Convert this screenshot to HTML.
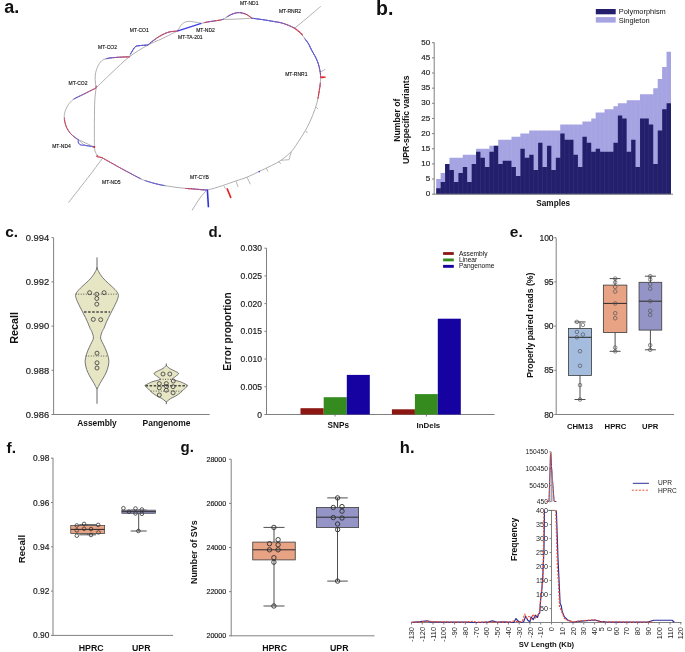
<!DOCTYPE html>
<html><head><meta charset="utf-8"><style>
html,body{margin:0;padding:0;background:#fff;}
svg{display:block;font-family:"Liberation Sans", sans-serif;}
</style></head><body>
<div style="width:685px;height:652px;will-change:transform;">
<svg width="685" height="652" viewBox="0 0 685 652">
<rect x="0" y="0" width="685" height="652" fill="#ffffff"/>
<text x="4.2" y="13.1" font-size="18" text-anchor="start" fill="#111" font-weight="bold">a.</text>
<text x="376" y="15" font-size="19.5" text-anchor="start" fill="#111" font-weight="bold">b.</text>
<text x="5.2" y="236.6" font-size="15.4" text-anchor="start" fill="#111" font-weight="bold">c.</text>
<text x="208.6" y="236.6" font-size="15" text-anchor="start" fill="#111" font-weight="bold">d.</text>
<text x="509.8" y="236.7" font-size="15.5" text-anchor="start" fill="#111" font-weight="bold">e.</text>
<text x="6.5" y="452.9" font-size="15.5" text-anchor="start" fill="#111" font-weight="bold">f.</text>
<text x="180.5" y="451.8" font-size="15" text-anchor="start" fill="#111" font-weight="bold">g.</text>
<text x="399.8" y="452.8" font-size="16.5" text-anchor="start" fill="#111" font-weight="bold">h.</text>
<path d="M96.00,88.00 C98.67,85.42 106.43,77.70 112.00,72.50 C117.57,67.30 123.48,61.33 129.40,56.80 C135.32,52.27 142.07,48.32 147.50,45.30 C152.93,42.28 157.05,41.07 162.00,38.70 C166.95,36.33 174.67,32.37 177.20,31.10" fill="none" stroke="#a6a6a6" stroke-width="0.9" stroke-linecap="round" stroke-linejoin="round"/>
<path d="M129.40,56.80 C127.22,56.90 120.23,57.07 116.30,57.40 C112.37,57.73 108.43,58.03 105.80,58.80 C103.17,59.57 102.03,60.25 100.50,62.00 C98.97,63.75 97.48,66.97 96.60,69.30 C95.72,71.63 95.40,73.72 95.20,76.00 C95.00,78.28 95.27,81.00 95.40,83.00 C95.53,85.00 96.10,85.17 96.00,88.00 C95.90,90.83 95.07,94.50 94.80,100.00 C94.53,105.50 94.47,114.33 94.40,121.00 C94.33,127.67 94.40,135.67 94.40,140.00 C94.40,144.33 94.40,145.83 94.40,147.00" fill="none" stroke="#a6a6a6" stroke-width="0.9" stroke-linecap="round" stroke-linejoin="round"/>
<path d="M96.00,88.00 C94.17,88.92 88.72,91.65 85.00,93.50 C81.28,95.35 76.62,97.02 73.70,99.10 C70.78,101.18 69.03,103.57 67.50,106.00 C65.97,108.43 65.00,111.37 64.50,113.70 C64.00,116.03 64.25,117.95 64.50,120.00 C64.75,122.05 64.98,123.73 66.00,126.00 C67.02,128.27 68.55,131.32 70.60,133.60 C72.65,135.88 75.98,137.77 78.30,139.70 C80.62,141.63 82.72,144.15 84.50,145.20 C86.28,146.25 87.38,145.70 89.00,146.00 C90.62,146.30 93.33,146.83 94.20,147.00" fill="none" stroke="#a6a6a6" stroke-width="0.9" stroke-linecap="round" stroke-linejoin="round"/>
<path d="M94.20,147.00 C94.33,147.67 94.45,149.58 95.00,151.00 C95.55,152.42 96.33,154.38 97.50,155.50 C98.67,156.62 98.03,155.53 102.00,157.70 C105.97,159.87 114.58,164.87 121.30,168.50 C128.02,172.13 136.17,176.87 142.30,179.50 C148.43,182.13 154.30,183.27 158.10,184.30 C161.90,185.33 161.45,185.12 165.10,185.70 C168.75,186.28 174.80,187.22 180.00,187.80 C185.20,188.38 191.83,188.83 196.30,189.20 C200.77,189.57 202.42,190.60 206.80,190.00 C211.18,189.40 217.78,187.10 222.60,185.60 C227.42,184.10 231.63,182.40 235.70,181.00 C239.77,179.60 243.07,178.80 247.00,177.20 C250.93,175.60 255.22,173.35 259.30,171.40 C263.38,169.45 267.90,167.35 271.50,165.50 C275.10,163.65 277.58,162.63 280.90,160.30 C284.22,157.97 288.48,154.62 291.40,151.50 C294.32,148.38 296.07,145.10 298.40,141.60 C300.73,138.10 303.35,134.10 305.40,130.50 C307.45,126.90 309.07,123.67 310.70,120.00 C312.33,116.33 313.93,112.33 315.20,108.50 C316.47,104.67 317.50,100.77 318.30,97.00 C319.10,93.23 319.62,89.13 320.00,85.90 C320.38,82.67 320.57,79.90 320.60,77.60 C320.63,75.30 320.58,74.40 320.20,72.10 C319.82,69.80 319.10,66.33 318.30,63.80 C317.50,61.27 316.48,59.12 315.40,56.90 C314.32,54.68 312.95,52.68 311.80,50.50 C310.65,48.32 309.72,45.88 308.50,43.80 C307.28,41.72 306.08,40.03 304.50,38.00 C302.92,35.97 300.72,33.27 299.00,31.60 C297.28,29.93 295.97,29.05 294.20,28.00 C292.43,26.95 290.58,26.17 288.40,25.30 C286.22,24.43 283.53,23.43 281.10,22.80 C278.67,22.17 276.72,22.00 273.80,21.50 C270.88,21.00 267.25,20.35 263.60,19.80 C259.95,19.25 253.85,18.47 251.90,18.20" fill="none" stroke="#a6a6a6" stroke-width="0.9" stroke-linecap="round" stroke-linejoin="round"/>
<path d="M251.90,18.20 C249.92,18.32 243.65,18.72 240.00,18.90 C236.35,19.08 232.80,19.23 230.00,19.30 C227.20,19.37 224.33,19.30 223.20,19.30" fill="none" stroke="#a6a6a6" stroke-width="0.9" stroke-linecap="round" stroke-linejoin="round"/>
<path d="M251.90,18.20 C250.93,17.55 248.28,15.23 246.10,14.30 C243.92,13.37 241.15,12.62 238.80,12.60 C236.45,12.58 234.60,13.08 232.00,14.20 C229.40,15.32 224.67,18.45 223.20,19.30" fill="none" stroke="#a6a6a6" stroke-width="0.9" stroke-linecap="round" stroke-linejoin="round"/>
<path d="M223.20,19.30 C222.47,19.47 221.23,19.88 218.80,20.30 C216.37,20.72 211.52,21.28 208.60,21.80 C205.68,22.32 202.52,23.13 201.30,23.40" fill="none" stroke="#a6a6a6" stroke-width="0.9" stroke-linecap="round" stroke-linejoin="round"/>
<path d="M201.30,23.40 C200.33,23.20 197.68,22.53 195.50,22.20 C193.32,21.87 190.40,21.13 188.20,21.40 C186.00,21.67 184.13,22.18 182.30,23.80 C180.47,25.42 178.05,29.88 177.20,31.10" fill="none" stroke="#a6a6a6" stroke-width="0.9" stroke-linecap="round" stroke-linejoin="round"/>
<path d="M177.20,31.10 C175.87,31.25 171.75,31.35 169.20,32.00 C166.65,32.65 164.33,33.73 161.90,35.00 C159.47,36.27 156.95,37.93 154.60,39.60 C152.25,41.27 148.93,44.10 147.80,45.00" fill="none" stroke="#a6a6a6" stroke-width="0.9" stroke-linecap="round" stroke-linejoin="round"/>
<path d="M147.80,45.00 C146.50,45.10 142.05,45.33 140.00,45.60 C137.95,45.87 136.83,45.62 135.50,46.60 C134.17,47.58 133.02,49.80 132.00,51.50 C130.98,53.20 129.83,55.92 129.40,56.80" fill="none" stroke="#a6a6a6" stroke-width="0.9" stroke-linecap="round" stroke-linejoin="round"/>
<path d="M295.00,28.00 C297.00,26.33 302.75,21.57 307.00,18.00 C311.25,14.43 318.25,8.50 320.50,6.60" fill="none" stroke="#a6a6a6" stroke-width="0.9" stroke-linecap="round" stroke-linejoin="round"/>
<path d="M102.00,158.90 C100.00,161.58 95.53,167.78 90.00,175.00 C84.47,182.22 72.33,197.67 68.80,202.20" fill="none" stroke="#a6a6a6" stroke-width="0.9" stroke-linecap="round" stroke-linejoin="round"/>
<path d="M206.80,190.00 C205.67,191.33 202.42,194.67 200.00,198.00 C197.58,201.33 193.58,208.00 192.30,210.00" fill="none" stroke="#a6a6a6" stroke-width="0.9" stroke-linecap="round" stroke-linejoin="round"/>
<path d="M78.30,139.70 C79.58,140.28 83.35,141.98 86.00,143.20 C88.65,144.42 92.83,146.37 94.20,147.00" fill="none" stroke="#a6a6a6" stroke-width="0.9" stroke-linecap="round" stroke-linejoin="round"/>
<line x1="236" y1="181" x2="238" y2="187" stroke="#a6a6a6" stroke-width="0.8"/>
<line x1="247" y1="177.2" x2="250.4" y2="184.3" stroke="#a6a6a6" stroke-width="0.8"/>
<line x1="224" y1="186" x2="225.5" y2="189" stroke="#a6a6a6" stroke-width="0.8"/>
<line x1="266" y1="168" x2="268" y2="171.5" stroke="#a6a6a6" stroke-width="0.8"/>
<line x1="278" y1="161.5" x2="281" y2="163.5" stroke="#a6a6a6" stroke-width="0.8"/>
<line x1="291.4" y1="151.5" x2="289" y2="159.7" stroke="#a6a6a6" stroke-width="0.8"/>
<line x1="289" y1="159.7" x2="280.9" y2="160.3" stroke="#a6a6a6" stroke-width="0.8"/>
<line x1="305.4" y1="130.5" x2="307.5" y2="133" stroke="#a6a6a6" stroke-width="0.8"/>
<line x1="316" y1="107" x2="318" y2="109" stroke="#a6a6a6" stroke-width="0.8"/>
<line x1="320.4" y1="72.1" x2="325.2" y2="69.3" stroke="#a6a6a6" stroke-width="0.8"/>
<line x1="96.00" y1="88.00" x2="95.07" y2="88.46" stroke="#d5314e" stroke-width="0.85" stroke-linecap="round"/>
<line x1="95.07" y1="88.46" x2="94.14" y2="88.93" stroke="#be7788" stroke-width="0.85" stroke-linecap="round"/>
<line x1="94.14" y1="88.93" x2="93.21" y2="89.39" stroke="#c73460" stroke-width="0.85" stroke-linecap="round"/>
<line x1="93.21" y1="89.39" x2="92.29" y2="89.86" stroke="#c1366a" stroke-width="0.85" stroke-linecap="round"/>
<line x1="92.29" y1="89.86" x2="91.36" y2="90.32" stroke="#b47a94" stroke-width="0.85" stroke-linecap="round"/>
<line x1="91.36" y1="90.32" x2="90.43" y2="90.79" stroke="#b3397c" stroke-width="0.85" stroke-linecap="round"/>
<line x1="90.43" y1="90.79" x2="89.50" y2="91.25" stroke="#ad3a83" stroke-width="0.85" stroke-linecap="round"/>
<line x1="89.50" y1="91.25" x2="88.57" y2="91.71" stroke="#ac7b9f" stroke-width="0.85" stroke-linecap="round"/>
<line x1="88.57" y1="91.71" x2="87.64" y2="92.18" stroke="#a23c91" stroke-width="0.85" stroke-linecap="round"/>
<line x1="87.64" y1="92.18" x2="86.72" y2="92.64" stroke="#9c3c97" stroke-width="0.85" stroke-linecap="round"/>
<line x1="86.72" y1="92.64" x2="85.79" y2="93.11" stroke="#a47ca8" stroke-width="0.85" stroke-linecap="round"/>
<line x1="85.79" y1="93.11" x2="84.86" y2="93.57" stroke="#913ea5" stroke-width="0.85" stroke-linecap="round"/>
<line x1="84.86" y1="93.57" x2="83.93" y2="94.03" stroke="#8b3fab" stroke-width="0.85" stroke-linecap="round"/>
<line x1="83.93" y1="94.03" x2="83.00" y2="94.50" stroke="#9d7db1" stroke-width="0.85" stroke-linecap="round"/>
<line x1="83.00" y1="94.50" x2="82.08" y2="94.97" stroke="#7f40b8" stroke-width="0.85" stroke-linecap="round"/>
<line x1="82.08" y1="94.97" x2="81.15" y2="95.43" stroke="#7a41bd" stroke-width="0.85" stroke-linecap="round"/>
<line x1="81.15" y1="95.43" x2="80.22" y2="95.89" stroke="#957fb8" stroke-width="0.85" stroke-linecap="round"/>
<line x1="80.22" y1="95.89" x2="79.29" y2="96.35" stroke="#6f43c5" stroke-width="0.85" stroke-linecap="round"/>
<line x1="79.29" y1="96.35" x2="78.36" y2="96.81" stroke="#6a43c9" stroke-width="0.85" stroke-linecap="round"/>
<line x1="78.36" y1="96.81" x2="77.43" y2="97.27" stroke="#8e7fbd" stroke-width="0.85" stroke-linecap="round"/>
<line x1="77.43" y1="97.27" x2="76.49" y2="97.73" stroke="#5f45d1" stroke-width="0.85" stroke-linecap="round"/>
<line x1="76.49" y1="97.73" x2="75.56" y2="98.18" stroke="#5a46d6" stroke-width="0.85" stroke-linecap="round"/>
<line x1="75.56" y1="98.18" x2="74.63" y2="98.64" stroke="#8781c3" stroke-width="0.85" stroke-linecap="round"/>
<line x1="74.63" y1="98.64" x2="73.70" y2="99.10" stroke="#4f48de" stroke-width="0.85" stroke-linecap="round"/>
<line x1="64.50" y1="118.00" x2="64.39" y2="119.03" stroke="#d8304a" stroke-width="0.85" stroke-linecap="round"/>
<line x1="64.39" y1="119.03" x2="64.51" y2="120.06" stroke="#c27682" stroke-width="0.85" stroke-linecap="round"/>
<line x1="64.51" y1="120.06" x2="64.72" y2="121.08" stroke="#d8304a" stroke-width="0.85" stroke-linecap="round"/>
<line x1="64.72" y1="121.08" x2="64.94" y2="122.09" stroke="#d8304a" stroke-width="0.85" stroke-linecap="round"/>
<line x1="64.94" y1="122.09" x2="65.18" y2="123.10" stroke="#c27682" stroke-width="0.85" stroke-linecap="round"/>
<line x1="65.18" y1="123.10" x2="65.44" y2="124.11" stroke="#d8304a" stroke-width="0.85" stroke-linecap="round"/>
<line x1="65.44" y1="124.11" x2="65.72" y2="125.11" stroke="#d8304a" stroke-width="0.85" stroke-linecap="round"/>
<line x1="65.72" y1="125.11" x2="66.03" y2="126.09" stroke="#c27682" stroke-width="0.85" stroke-linecap="round"/>
<line x1="66.03" y1="126.09" x2="66.41" y2="127.06" stroke="#d8304a" stroke-width="0.85" stroke-linecap="round"/>
<line x1="66.41" y1="127.06" x2="66.85" y2="128.00" stroke="#d6304c" stroke-width="0.85" stroke-linecap="round"/>
<line x1="66.85" y1="128.00" x2="67.35" y2="128.91" stroke="#bf7786" stroke-width="0.85" stroke-linecap="round"/>
<line x1="67.35" y1="128.91" x2="67.88" y2="129.80" stroke="#cd3358" stroke-width="0.85" stroke-linecap="round"/>
<line x1="67.88" y1="129.80" x2="68.42" y2="130.69" stroke="#c9345e" stroke-width="0.85" stroke-linecap="round"/>
<line x1="68.42" y1="130.69" x2="68.98" y2="131.56" stroke="#b9798e" stroke-width="0.85" stroke-linecap="round"/>
<line x1="68.98" y1="131.56" x2="69.59" y2="132.41" stroke="#c0366a" stroke-width="0.85" stroke-linecap="round"/>
<line x1="69.59" y1="132.41" x2="70.25" y2="133.21" stroke="#bc3770" stroke-width="0.85" stroke-linecap="round"/>
<line x1="70.25" y1="133.21" x2="70.95" y2="133.97" stroke="#b37a96" stroke-width="0.85" stroke-linecap="round"/>
<line x1="70.95" y1="133.97" x2="71.70" y2="134.69" stroke="#b3397c" stroke-width="0.85" stroke-linecap="round"/>
<line x1="71.70" y1="134.69" x2="72.47" y2="135.39" stroke="#ae3a82" stroke-width="0.85" stroke-linecap="round"/>
<line x1="72.47" y1="135.39" x2="73.25" y2="136.07" stroke="#ac7b9e" stroke-width="0.85" stroke-linecap="round"/>
<line x1="73.25" y1="136.07" x2="74.05" y2="136.73" stroke="#a23c91" stroke-width="0.85" stroke-linecap="round"/>
<line x1="74.05" y1="136.73" x2="74.86" y2="137.39" stroke="#9c3d98" stroke-width="0.85" stroke-linecap="round"/>
<line x1="74.86" y1="137.39" x2="75.68" y2="138.01" stroke="#a47ca8" stroke-width="0.85" stroke-linecap="round"/>
<line x1="75.68" y1="138.01" x2="76.54" y2="138.60" stroke="#8f3ea6" stroke-width="0.85" stroke-linecap="round"/>
<line x1="76.54" y1="138.60" x2="77.42" y2="139.15" stroke="#893fad" stroke-width="0.85" stroke-linecap="round"/>
<line x1="77.42" y1="139.15" x2="78.30" y2="139.70" stroke="#9c7eb2" stroke-width="0.85" stroke-linecap="round"/>
<line x1="78.30" y1="139.70" x2="78.26" y2="140.75" stroke="#4c48e0" stroke-width="0.85" stroke-linecap="round"/>
<line x1="78.26" y1="140.75" x2="78.25" y2="141.80" stroke="#8381c6" stroke-width="0.85" stroke-linecap="round"/>
<line x1="78.25" y1="141.80" x2="78.43" y2="142.83" stroke="#4c48e0" stroke-width="0.85" stroke-linecap="round"/>
<line x1="78.43" y1="142.83" x2="79.01" y2="143.71" stroke="#4c48e0" stroke-width="0.85" stroke-linecap="round"/>
<line x1="79.01" y1="143.71" x2="79.81" y2="144.39" stroke="#8381c6" stroke-width="0.85" stroke-linecap="round"/>
<line x1="79.81" y1="144.39" x2="80.73" y2="144.89" stroke="#4c48e0" stroke-width="0.85" stroke-linecap="round"/>
<line x1="80.73" y1="144.89" x2="81.74" y2="145.16" stroke="#4c48e0" stroke-width="0.85" stroke-linecap="round"/>
<line x1="81.74" y1="145.16" x2="82.79" y2="145.17" stroke="#8381c6" stroke-width="0.85" stroke-linecap="round"/>
<line x1="82.79" y1="145.17" x2="83.85" y2="145.15" stroke="#4c48e0" stroke-width="0.85" stroke-linecap="round"/>
<line x1="83.85" y1="145.15" x2="84.89" y2="145.25" stroke="#4c48e0" stroke-width="0.85" stroke-linecap="round"/>
<line x1="84.89" y1="145.25" x2="85.93" y2="145.42" stroke="#8381c6" stroke-width="0.85" stroke-linecap="round"/>
<line x1="85.93" y1="145.42" x2="86.97" y2="145.61" stroke="#4c48e0" stroke-width="0.85" stroke-linecap="round"/>
<line x1="86.97" y1="145.61" x2="88.00" y2="145.81" stroke="#4c48e0" stroke-width="0.85" stroke-linecap="round"/>
<line x1="88.00" y1="145.81" x2="89.03" y2="146.01" stroke="#8381c6" stroke-width="0.85" stroke-linecap="round"/>
<line x1="89.03" y1="146.01" x2="90.07" y2="146.20" stroke="#4c48e0" stroke-width="0.85" stroke-linecap="round"/>
<line x1="90.07" y1="146.20" x2="91.10" y2="146.40" stroke="#4c48e0" stroke-width="0.85" stroke-linecap="round"/>
<line x1="91.10" y1="146.40" x2="92.13" y2="146.60" stroke="#8381c6" stroke-width="0.85" stroke-linecap="round"/>
<line x1="92.13" y1="146.60" x2="93.17" y2="146.80" stroke="#4c48e0" stroke-width="0.85" stroke-linecap="round"/>
<line x1="93.17" y1="146.80" x2="94.20" y2="147.00" stroke="#4c48e0" stroke-width="0.85" stroke-linecap="round"/>
<circle cx="94.4" cy="147" r="0.9" fill="#e82020"/>
<line x1="97.50" y1="155.50" x2="96.56" y2="155.98" stroke="#d8304a" stroke-width="0.85" stroke-linecap="round"/>
<line x1="96.56" y1="155.98" x2="96.82" y2="156.62" stroke="#c27682" stroke-width="0.85" stroke-linecap="round"/>
<line x1="96.82" y1="156.62" x2="97.85" y2="156.88" stroke="#d8304a" stroke-width="0.85" stroke-linecap="round"/>
<line x1="97.85" y1="156.88" x2="98.88" y2="157.10" stroke="#d8304a" stroke-width="0.85" stroke-linecap="round"/>
<line x1="98.88" y1="157.10" x2="99.92" y2="157.30" stroke="#c27682" stroke-width="0.85" stroke-linecap="round"/>
<line x1="99.92" y1="157.30" x2="100.96" y2="157.50" stroke="#d8304a" stroke-width="0.85" stroke-linecap="round"/>
<line x1="100.96" y1="157.50" x2="102.00" y2="157.70" stroke="#d8304a" stroke-width="0.85" stroke-linecap="round"/>
<line x1="102.00" y1="157.70" x2="102.88" y2="158.19" stroke="#d7304b" stroke-width="0.85" stroke-linecap="round"/>
<line x1="102.88" y1="158.19" x2="103.76" y2="158.69" stroke="#c17784" stroke-width="0.85" stroke-linecap="round"/>
<line x1="103.76" y1="158.69" x2="104.64" y2="159.18" stroke="#d33151" stroke-width="0.85" stroke-linecap="round"/>
<line x1="104.64" y1="159.18" x2="105.52" y2="159.67" stroke="#d13254" stroke-width="0.85" stroke-linecap="round"/>
<line x1="105.52" y1="159.67" x2="106.41" y2="160.17" stroke="#be7788" stroke-width="0.85" stroke-linecap="round"/>
<line x1="106.41" y1="160.17" x2="107.29" y2="160.66" stroke="#cd3359" stroke-width="0.85" stroke-linecap="round"/>
<line x1="107.29" y1="160.66" x2="108.17" y2="161.15" stroke="#cb335c" stroke-width="0.85" stroke-linecap="round"/>
<line x1="108.17" y1="161.15" x2="109.05" y2="161.65" stroke="#bb788b" stroke-width="0.85" stroke-linecap="round"/>
<line x1="109.05" y1="161.65" x2="109.93" y2="162.14" stroke="#c73461" stroke-width="0.85" stroke-linecap="round"/>
<line x1="109.93" y1="162.14" x2="110.81" y2="162.64" stroke="#c53564" stroke-width="0.85" stroke-linecap="round"/>
<line x1="110.81" y1="162.64" x2="111.69" y2="163.13" stroke="#b9798f" stroke-width="0.85" stroke-linecap="round"/>
<line x1="111.69" y1="163.13" x2="112.57" y2="163.62" stroke="#c13669" stroke-width="0.85" stroke-linecap="round"/>
<line x1="112.57" y1="163.62" x2="113.46" y2="164.12" stroke="#bf366c" stroke-width="0.85" stroke-linecap="round"/>
<line x1="113.46" y1="164.12" x2="114.34" y2="164.61" stroke="#b67a93" stroke-width="0.85" stroke-linecap="round"/>
<line x1="114.34" y1="164.61" x2="115.21" y2="165.11" stroke="#bb3772" stroke-width="0.85" stroke-linecap="round"/>
<line x1="115.21" y1="165.11" x2="116.09" y2="165.61" stroke="#b93874" stroke-width="0.85" stroke-linecap="round"/>
<line x1="116.09" y1="165.61" x2="116.97" y2="166.10" stroke="#b37a96" stroke-width="0.85" stroke-linecap="round"/>
<line x1="116.97" y1="166.10" x2="117.86" y2="166.59" stroke="#b5397a" stroke-width="0.85" stroke-linecap="round"/>
<line x1="117.86" y1="166.59" x2="118.74" y2="167.09" stroke="#b3397c" stroke-width="0.85" stroke-linecap="round"/>
<line x1="118.74" y1="167.09" x2="119.62" y2="167.58" stroke="#b07b9a" stroke-width="0.85" stroke-linecap="round"/>
<line x1="119.62" y1="167.58" x2="120.50" y2="168.06" stroke="#ae3a83" stroke-width="0.85" stroke-linecap="round"/>
<line x1="120.50" y1="168.06" x2="121.39" y2="168.55" stroke="#ab3b86" stroke-width="0.85" stroke-linecap="round"/>
<line x1="121.39" y1="168.55" x2="122.28" y2="169.03" stroke="#ac7b9f" stroke-width="0.85" stroke-linecap="round"/>
<line x1="122.28" y1="169.03" x2="123.17" y2="169.51" stroke="#a43b8d" stroke-width="0.85" stroke-linecap="round"/>
<line x1="123.17" y1="169.51" x2="124.06" y2="169.99" stroke="#a13c91" stroke-width="0.85" stroke-linecap="round"/>
<line x1="124.06" y1="169.99" x2="124.95" y2="170.46" stroke="#a87ca4" stroke-width="0.85" stroke-linecap="round"/>
<line x1="124.95" y1="170.46" x2="125.84" y2="170.94" stroke="#9b3d98" stroke-width="0.85" stroke-linecap="round"/>
<line x1="125.84" y1="170.94" x2="126.73" y2="171.41" stroke="#983d9c" stroke-width="0.85" stroke-linecap="round"/>
<line x1="126.73" y1="171.41" x2="127.63" y2="171.88" stroke="#a47ca9" stroke-width="0.85" stroke-linecap="round"/>
<line x1="127.63" y1="171.88" x2="128.52" y2="172.35" stroke="#923ea3" stroke-width="0.85" stroke-linecap="round"/>
<line x1="128.52" y1="172.35" x2="129.41" y2="172.83" stroke="#8f3ea7" stroke-width="0.85" stroke-linecap="round"/>
<line x1="129.41" y1="172.83" x2="130.30" y2="173.30" stroke="#a07dae" stroke-width="0.85" stroke-linecap="round"/>
<line x1="130.30" y1="173.30" x2="131.20" y2="173.77" stroke="#883fae" stroke-width="0.85" stroke-linecap="round"/>
<line x1="131.20" y1="173.77" x2="132.09" y2="174.25" stroke="#853fb2" stroke-width="0.85" stroke-linecap="round"/>
<line x1="132.09" y1="174.25" x2="132.98" y2="174.72" stroke="#9b7eb2" stroke-width="0.85" stroke-linecap="round"/>
<line x1="132.98" y1="174.72" x2="133.87" y2="175.20" stroke="#7f40b9" stroke-width="0.85" stroke-linecap="round"/>
<line x1="133.87" y1="175.20" x2="134.76" y2="175.67" stroke="#7d41bb" stroke-width="0.85" stroke-linecap="round"/>
<line x1="134.76" y1="175.67" x2="135.65" y2="176.15" stroke="#987eb6" stroke-width="0.85" stroke-linecap="round"/>
<line x1="135.65" y1="176.15" x2="136.54" y2="176.62" stroke="#7842c0" stroke-width="0.85" stroke-linecap="round"/>
<line x1="136.54" y1="176.62" x2="137.44" y2="177.10" stroke="#7542c2" stroke-width="0.85" stroke-linecap="round"/>
<line x1="137.44" y1="177.10" x2="138.33" y2="177.57" stroke="#957fb9" stroke-width="0.85" stroke-linecap="round"/>
<line x1="138.33" y1="177.57" x2="139.22" y2="178.05" stroke="#7043c6" stroke-width="0.85" stroke-linecap="round"/>
<line x1="139.22" y1="178.05" x2="140.11" y2="178.52" stroke="#6e43c9" stroke-width="0.85" stroke-linecap="round"/>
<line x1="140.11" y1="178.52" x2="141.00" y2="179.00" stroke="#917fbc" stroke-width="0.85" stroke-linecap="round"/>
<line x1="145.00" y1="180.60" x2="145.99" y2="180.90" stroke="#6857d1" stroke-width="0.85" stroke-linecap="round"/>
<line x1="145.99" y1="180.90" x2="146.99" y2="181.20" stroke="#8f88bf" stroke-width="0.85" stroke-linecap="round"/>
<line x1="146.99" y1="181.20" x2="147.98" y2="181.51" stroke="#6254d4" stroke-width="0.85" stroke-linecap="round"/>
<line x1="147.98" y1="181.51" x2="148.97" y2="181.81" stroke="#6052d6" stroke-width="0.85" stroke-linecap="round"/>
<line x1="148.97" y1="181.81" x2="149.97" y2="182.11" stroke="#8a85c2" stroke-width="0.85" stroke-linecap="round"/>
<line x1="149.97" y1="182.11" x2="150.96" y2="182.40" stroke="#5a4fd9" stroke-width="0.85" stroke-linecap="round"/>
<line x1="150.96" y1="182.40" x2="151.96" y2="182.69" stroke="#564eda" stroke-width="0.85" stroke-linecap="round"/>
<line x1="151.96" y1="182.69" x2="152.96" y2="182.97" stroke="#8783c4" stroke-width="0.85" stroke-linecap="round"/>
<line x1="152.96" y1="182.97" x2="153.96" y2="183.25" stroke="#504ade" stroke-width="0.85" stroke-linecap="round"/>
<line x1="153.96" y1="183.25" x2="154.96" y2="183.52" stroke="#4e49df" stroke-width="0.85" stroke-linecap="round"/>
<line x1="154.96" y1="183.52" x2="155.96" y2="183.78" stroke="#8381c6" stroke-width="0.85" stroke-linecap="round"/>
<line x1="155.96" y1="183.78" x2="156.97" y2="184.03" stroke="#4c48e0" stroke-width="0.85" stroke-linecap="round"/>
<line x1="156.97" y1="184.03" x2="157.98" y2="184.27" stroke="#4c48e0" stroke-width="0.85" stroke-linecap="round"/>
<line x1="157.98" y1="184.27" x2="158.99" y2="184.50" stroke="#8381c6" stroke-width="0.85" stroke-linecap="round"/>
<line x1="158.99" y1="184.50" x2="160.01" y2="184.71" stroke="#4c48e0" stroke-width="0.85" stroke-linecap="round"/>
<line x1="160.01" y1="184.71" x2="161.02" y2="184.91" stroke="#4c48e0" stroke-width="0.85" stroke-linecap="round"/>
<line x1="161.02" y1="184.91" x2="162.04" y2="185.11" stroke="#8381c6" stroke-width="0.85" stroke-linecap="round"/>
<line x1="162.04" y1="185.11" x2="163.06" y2="185.31" stroke="#4c48e0" stroke-width="0.85" stroke-linecap="round"/>
<line x1="163.06" y1="185.31" x2="164.08" y2="185.50" stroke="#4c48e0" stroke-width="0.85" stroke-linecap="round"/>
<line x1="164.08" y1="185.50" x2="165.10" y2="185.70" stroke="#8381c6" stroke-width="0.85" stroke-linecap="round"/>
<line x1="185.80" y1="188.40" x2="186.80" y2="188.47" stroke="#d5314e" stroke-width="1.05" stroke-linecap="round"/>
<line x1="186.80" y1="188.47" x2="187.80" y2="188.54" stroke="#be7788" stroke-width="1.05" stroke-linecap="round"/>
<line x1="187.80" y1="188.54" x2="188.80" y2="188.61" stroke="#c8345f" stroke-width="1.05" stroke-linecap="round"/>
<line x1="188.80" y1="188.61" x2="189.80" y2="188.69" stroke="#c23668" stroke-width="1.05" stroke-linecap="round"/>
<line x1="189.80" y1="188.69" x2="190.80" y2="188.76" stroke="#b57a94" stroke-width="1.05" stroke-linecap="round"/>
<line x1="190.80" y1="188.76" x2="191.80" y2="188.84" stroke="#b53979" stroke-width="1.05" stroke-linecap="round"/>
<line x1="191.80" y1="188.84" x2="192.80" y2="188.92" stroke="#b03a80" stroke-width="1.05" stroke-linecap="round"/>
<line x1="192.80" y1="188.92" x2="193.80" y2="189.00" stroke="#af7b9b" stroke-width="1.05" stroke-linecap="round"/>
<line x1="193.80" y1="189.00" x2="194.80" y2="189.08" stroke="#ac3b84" stroke-width="1.05" stroke-linecap="round"/>
<line x1="194.80" y1="189.08" x2="195.80" y2="189.16" stroke="#aa3b86" stroke-width="1.05" stroke-linecap="round"/>
<line x1="195.80" y1="189.16" x2="196.80" y2="189.24" stroke="#ac7b9e" stroke-width="1.05" stroke-linecap="round"/>
<line x1="196.80" y1="189.24" x2="197.80" y2="189.32" stroke="#a63b8a" stroke-width="1.05" stroke-linecap="round"/>
<line x1="197.80" y1="189.32" x2="198.80" y2="189.39" stroke="#a43b8c" stroke-width="1.05" stroke-linecap="round"/>
<line x1="198.80" y1="189.39" x2="199.80" y2="189.47" stroke="#aa7ca1" stroke-width="1.05" stroke-linecap="round"/>
<line x1="199.80" y1="189.47" x2="200.80" y2="189.54" stroke="#a03c90" stroke-width="1.05" stroke-linecap="round"/>
<line x1="200.80" y1="189.54" x2="201.80" y2="189.62" stroke="#9c3d95" stroke-width="1.05" stroke-linecap="round"/>
<line x1="201.80" y1="189.62" x2="202.80" y2="189.70" stroke="#a57ca7" stroke-width="1.05" stroke-linecap="round"/>
<line x1="202.80" y1="189.70" x2="203.80" y2="189.77" stroke="#923ea2" stroke-width="1.05" stroke-linecap="round"/>
<line x1="203.80" y1="189.77" x2="204.80" y2="189.85" stroke="#8d3ea8" stroke-width="1.05" stroke-linecap="round"/>
<line x1="204.80" y1="189.85" x2="205.80" y2="189.92" stroke="#9e7daf" stroke-width="1.05" stroke-linecap="round"/>
<line x1="205.80" y1="189.92" x2="206.80" y2="190.00" stroke="#8340b5" stroke-width="1.05" stroke-linecap="round"/>
<line x1="304.80" y1="38.80" x2="305.43" y2="39.60" stroke="#4c48e0" stroke-width="1.0" stroke-linecap="round"/>
<line x1="305.43" y1="39.60" x2="306.06" y2="40.39" stroke="#8381c6" stroke-width="1.0" stroke-linecap="round"/>
<line x1="306.06" y1="40.39" x2="306.68" y2="41.19" stroke="#4c48e0" stroke-width="1.0" stroke-linecap="round"/>
<line x1="306.68" y1="41.19" x2="307.29" y2="42.00" stroke="#4c48e0" stroke-width="1.0" stroke-linecap="round"/>
<line x1="307.29" y1="42.00" x2="307.87" y2="42.83" stroke="#8381c6" stroke-width="1.0" stroke-linecap="round"/>
<line x1="307.87" y1="42.83" x2="308.42" y2="43.68" stroke="#4c48e0" stroke-width="1.0" stroke-linecap="round"/>
<line x1="308.42" y1="43.68" x2="308.93" y2="44.56" stroke="#4c48e0" stroke-width="1.0" stroke-linecap="round"/>
<line x1="308.93" y1="44.56" x2="309.39" y2="45.46" stroke="#8381c6" stroke-width="1.0" stroke-linecap="round"/>
<line x1="309.39" y1="45.46" x2="309.83" y2="46.37" stroke="#4c48e0" stroke-width="1.0" stroke-linecap="round"/>
<line x1="309.83" y1="46.37" x2="310.26" y2="47.29" stroke="#4c48e0" stroke-width="1.0" stroke-linecap="round"/>
<line x1="310.26" y1="47.29" x2="310.69" y2="48.21" stroke="#8381c6" stroke-width="1.0" stroke-linecap="round"/>
<line x1="310.69" y1="48.21" x2="311.12" y2="49.13" stroke="#4c48e0" stroke-width="1.0" stroke-linecap="round"/>
<line x1="311.12" y1="49.13" x2="311.56" y2="50.04" stroke="#4c48e0" stroke-width="1.0" stroke-linecap="round"/>
<line x1="311.56" y1="50.04" x2="312.03" y2="50.94" stroke="#8381c6" stroke-width="1.0" stroke-linecap="round"/>
<line x1="312.03" y1="50.94" x2="312.53" y2="51.82" stroke="#4c48e0" stroke-width="1.0" stroke-linecap="round"/>
<line x1="312.53" y1="51.82" x2="313.04" y2="52.70" stroke="#4c48e0" stroke-width="1.0" stroke-linecap="round"/>
<line x1="313.04" y1="52.70" x2="313.55" y2="53.57" stroke="#8381c6" stroke-width="1.0" stroke-linecap="round"/>
<line x1="313.55" y1="53.57" x2="314.07" y2="54.44" stroke="#4c48e0" stroke-width="1.0" stroke-linecap="round"/>
<line x1="314.07" y1="54.44" x2="314.57" y2="55.32" stroke="#4c48e0" stroke-width="1.0" stroke-linecap="round"/>
<line x1="314.57" y1="55.32" x2="315.05" y2="56.22" stroke="#8381c6" stroke-width="1.0" stroke-linecap="round"/>
<line x1="315.05" y1="56.22" x2="315.51" y2="57.12" stroke="#4c48e0" stroke-width="1.0" stroke-linecap="round"/>
<line x1="315.51" y1="57.12" x2="315.95" y2="58.03" stroke="#4c48e0" stroke-width="1.0" stroke-linecap="round"/>
<line x1="315.95" y1="58.03" x2="316.38" y2="58.95" stroke="#8381c6" stroke-width="1.0" stroke-linecap="round"/>
<line x1="316.38" y1="58.95" x2="316.80" y2="59.87" stroke="#4c48e0" stroke-width="1.0" stroke-linecap="round"/>
<line x1="316.80" y1="59.87" x2="317.20" y2="60.80" stroke="#4c48e0" stroke-width="1.0" stroke-linecap="round"/>
<line x1="317.20" y1="60.80" x2="317.58" y2="61.75" stroke="#8381c5" stroke-width="1.0" stroke-linecap="round"/>
<line x1="317.58" y1="61.75" x2="317.93" y2="62.70" stroke="#5247db" stroke-width="1.0" stroke-linecap="round"/>
<line x1="317.93" y1="62.70" x2="318.25" y2="63.66" stroke="#5746d7" stroke-width="1.0" stroke-linecap="round"/>
<line x1="318.25" y1="63.66" x2="318.55" y2="64.63" stroke="#8a80c0" stroke-width="1.0" stroke-linecap="round"/>
<line x1="318.55" y1="64.63" x2="318.82" y2="65.60" stroke="#6145d0" stroke-width="1.0" stroke-linecap="round"/>
<line x1="318.82" y1="65.60" x2="319.07" y2="66.59" stroke="#6644cc" stroke-width="1.0" stroke-linecap="round"/>
<line x1="319.07" y1="66.59" x2="319.30" y2="67.57" stroke="#917fbb" stroke-width="1.0" stroke-linecap="round"/>
<line x1="319.30" y1="67.57" x2="319.52" y2="68.56" stroke="#7042c4" stroke-width="1.0" stroke-linecap="round"/>
<line x1="319.52" y1="68.56" x2="319.73" y2="69.55" stroke="#7542c0" stroke-width="1.0" stroke-linecap="round"/>
<line x1="319.73" y1="69.55" x2="319.92" y2="70.55" stroke="#987eb6" stroke-width="1.0" stroke-linecap="round"/>
<line x1="319.92" y1="70.55" x2="320.10" y2="71.55" stroke="#7f40b9" stroke-width="1.0" stroke-linecap="round"/>
<line x1="320.10" y1="71.55" x2="320.27" y2="72.55" stroke="#863fb1" stroke-width="1.0" stroke-linecap="round"/>
<line x1="320.27" y1="72.55" x2="320.39" y2="73.55" stroke="#a17dac" stroke-width="1.0" stroke-linecap="round"/>
<line x1="320.39" y1="73.55" x2="320.47" y2="74.56" stroke="#953d9f" stroke-width="1.0" stroke-linecap="round"/>
<line x1="320.47" y1="74.56" x2="320.53" y2="75.57" stroke="#9d3c96" stroke-width="1.0" stroke-linecap="round"/>
<line x1="320.53" y1="75.57" x2="320.56" y2="76.59" stroke="#ab7ba0" stroke-width="1.0" stroke-linecap="round"/>
<line x1="320.56" y1="76.59" x2="320.60" y2="77.60" stroke="#ac3a84" stroke-width="1.0" stroke-linecap="round"/>
<line x1="320.30" y1="83.00" x2="320.21" y2="84.04" stroke="#b73877" stroke-width="1.0" stroke-linecap="round"/>
<line x1="320.21" y1="84.04" x2="320.11" y2="85.08" stroke="#b9798e" stroke-width="1.0" stroke-linecap="round"/>
<line x1="320.11" y1="85.08" x2="319.97" y2="86.12" stroke="#d13253" stroke-width="1.0" stroke-linecap="round"/>
<line x1="319.97" y1="86.12" x2="319.81" y2="87.15" stroke="#d8304a" stroke-width="1.0" stroke-linecap="round"/>
<line x1="319.81" y1="87.15" x2="319.64" y2="88.18" stroke="#c27682" stroke-width="1.0" stroke-linecap="round"/>
<line x1="319.64" y1="88.18" x2="319.46" y2="89.21" stroke="#d8304a" stroke-width="1.0" stroke-linecap="round"/>
<line x1="319.46" y1="89.21" x2="319.29" y2="90.24" stroke="#d8304a" stroke-width="1.0" stroke-linecap="round"/>
<line x1="319.29" y1="90.24" x2="319.12" y2="91.27" stroke="#c27682" stroke-width="1.0" stroke-linecap="round"/>
<line x1="319.12" y1="91.27" x2="318.95" y2="92.30" stroke="#d8304a" stroke-width="1.0" stroke-linecap="round"/>
<line x1="318.95" y1="92.30" x2="318.79" y2="93.34" stroke="#d8304a" stroke-width="1.0" stroke-linecap="round"/>
<line x1="318.79" y1="93.34" x2="318.63" y2="94.37" stroke="#c27682" stroke-width="1.0" stroke-linecap="round"/>
<line x1="318.63" y1="94.37" x2="318.47" y2="95.40" stroke="#d8304a" stroke-width="1.0" stroke-linecap="round"/>
<line x1="318.47" y1="95.40" x2="318.32" y2="96.43" stroke="#d8304a" stroke-width="1.0" stroke-linecap="round"/>
<line x1="318.32" y1="96.43" x2="318.16" y2="97.47" stroke="#c27682" stroke-width="1.0" stroke-linecap="round"/>
<line x1="318.16" y1="97.47" x2="318.00" y2="98.50" stroke="#d8304a" stroke-width="1.0" stroke-linecap="round"/>
<line x1="294.20" y1="28.00" x2="295.08" y2="28.64" stroke="#b73877" stroke-width="1.05" stroke-linecap="round"/>
<line x1="295.08" y1="28.64" x2="295.96" y2="29.28" stroke="#b9798e" stroke-width="1.05" stroke-linecap="round"/>
<line x1="295.96" y1="29.28" x2="296.84" y2="29.92" stroke="#d13253" stroke-width="1.05" stroke-linecap="round"/>
<line x1="296.84" y1="29.92" x2="297.71" y2="30.58" stroke="#d8304a" stroke-width="1.05" stroke-linecap="round"/>
<line x1="297.71" y1="30.58" x2="298.57" y2="31.25" stroke="#c27682" stroke-width="1.05" stroke-linecap="round"/>
<line x1="298.57" y1="31.25" x2="299.40" y2="31.95" stroke="#d8304a" stroke-width="1.05" stroke-linecap="round"/>
<line x1="299.40" y1="31.95" x2="300.20" y2="32.69" stroke="#d8304a" stroke-width="1.05" stroke-linecap="round"/>
<line x1="300.20" y1="32.69" x2="300.97" y2="33.45" stroke="#c27682" stroke-width="1.05" stroke-linecap="round"/>
<line x1="300.97" y1="33.45" x2="301.74" y2="34.22" stroke="#d8304a" stroke-width="1.05" stroke-linecap="round"/>
<line x1="301.74" y1="34.22" x2="302.50" y2="35.00" stroke="#d8304a" stroke-width="1.05" stroke-linecap="round"/>
<line x1="251.90" y1="18.20" x2="252.91" y2="18.34" stroke="#4c48e0" stroke-width="1.0" stroke-linecap="round"/>
<line x1="252.91" y1="18.34" x2="253.91" y2="18.47" stroke="#8381c6" stroke-width="1.0" stroke-linecap="round"/>
<line x1="253.91" y1="18.47" x2="254.92" y2="18.60" stroke="#4c48e0" stroke-width="1.0" stroke-linecap="round"/>
<line x1="254.92" y1="18.60" x2="255.93" y2="18.74" stroke="#4c48e0" stroke-width="1.0" stroke-linecap="round"/>
<line x1="255.93" y1="18.74" x2="256.94" y2="18.87" stroke="#8381c6" stroke-width="1.0" stroke-linecap="round"/>
<line x1="256.94" y1="18.87" x2="257.94" y2="19.01" stroke="#4c48e0" stroke-width="1.0" stroke-linecap="round"/>
<line x1="257.94" y1="19.01" x2="258.95" y2="19.14" stroke="#4c48e0" stroke-width="1.0" stroke-linecap="round"/>
<line x1="258.95" y1="19.14" x2="259.96" y2="19.28" stroke="#8381c6" stroke-width="1.0" stroke-linecap="round"/>
<line x1="259.96" y1="19.28" x2="260.96" y2="19.42" stroke="#4c48e0" stroke-width="1.0" stroke-linecap="round"/>
<line x1="260.96" y1="19.42" x2="261.97" y2="19.56" stroke="#4c48e0" stroke-width="1.0" stroke-linecap="round"/>
<line x1="261.97" y1="19.56" x2="262.97" y2="19.71" stroke="#8381c6" stroke-width="1.0" stroke-linecap="round"/>
<line x1="262.97" y1="19.71" x2="263.98" y2="19.86" stroke="#4c48e0" stroke-width="1.0" stroke-linecap="round"/>
<line x1="263.98" y1="19.86" x2="264.98" y2="20.01" stroke="#4c48e0" stroke-width="1.0" stroke-linecap="round"/>
<line x1="264.98" y1="20.01" x2="265.99" y2="20.17" stroke="#8381c6" stroke-width="1.0" stroke-linecap="round"/>
<line x1="265.99" y1="20.17" x2="266.99" y2="20.34" stroke="#4c48e0" stroke-width="1.0" stroke-linecap="round"/>
<line x1="266.99" y1="20.34" x2="267.99" y2="20.50" stroke="#4c48e0" stroke-width="1.0" stroke-linecap="round"/>
<line x1="267.99" y1="20.50" x2="268.99" y2="20.67" stroke="#8381c6" stroke-width="1.0" stroke-linecap="round"/>
<line x1="268.99" y1="20.67" x2="269.99" y2="20.84" stroke="#4c48e0" stroke-width="1.0" stroke-linecap="round"/>
<line x1="269.99" y1="20.84" x2="271.00" y2="21.02" stroke="#4c48e0" stroke-width="1.0" stroke-linecap="round"/>
<line x1="271.00" y1="21.02" x2="272.00" y2="21.19" stroke="#8381c5" stroke-width="1.0" stroke-linecap="round"/>
<line x1="272.00" y1="21.19" x2="273.00" y2="21.36" stroke="#5247dc" stroke-width="1.0" stroke-linecap="round"/>
<line x1="273.00" y1="21.36" x2="274.00" y2="21.53" stroke="#5646d8" stroke-width="1.0" stroke-linecap="round"/>
<line x1="274.00" y1="21.53" x2="275.00" y2="21.70" stroke="#8a80c0" stroke-width="1.0" stroke-linecap="round"/>
<line x1="275.00" y1="21.70" x2="276.01" y2="21.85" stroke="#6045d1" stroke-width="1.0" stroke-linecap="round"/>
<line x1="276.01" y1="21.85" x2="277.01" y2="22.00" stroke="#6544cd" stroke-width="1.0" stroke-linecap="round"/>
<line x1="277.01" y1="22.00" x2="278.01" y2="22.16" stroke="#907fbb" stroke-width="1.0" stroke-linecap="round"/>
<line x1="278.01" y1="22.16" x2="279.02" y2="22.34" stroke="#6f43c5" stroke-width="1.0" stroke-linecap="round"/>
<line x1="279.02" y1="22.34" x2="280.01" y2="22.54" stroke="#7342c2" stroke-width="1.0" stroke-linecap="round"/>
<line x1="280.01" y1="22.54" x2="281.00" y2="22.77" stroke="#977eb6" stroke-width="1.0" stroke-linecap="round"/>
<line x1="281.00" y1="22.77" x2="281.98" y2="23.04" stroke="#7d40ba" stroke-width="1.0" stroke-linecap="round"/>
<line x1="281.98" y1="23.04" x2="282.95" y2="23.33" stroke="#8140b6" stroke-width="1.0" stroke-linecap="round"/>
<line x1="282.95" y1="23.33" x2="283.92" y2="23.65" stroke="#9d7db1" stroke-width="1.0" stroke-linecap="round"/>
<line x1="283.92" y1="23.65" x2="284.88" y2="23.98" stroke="#893fae" stroke-width="1.0" stroke-linecap="round"/>
<line x1="284.88" y1="23.98" x2="285.84" y2="24.32" stroke="#8d3ea9" stroke-width="1.0" stroke-linecap="round"/>
<line x1="285.84" y1="24.32" x2="286.79" y2="24.67" stroke="#a27dab" stroke-width="1.0" stroke-linecap="round"/>
<line x1="286.79" y1="24.67" x2="287.74" y2="25.04" stroke="#943da1" stroke-width="1.0" stroke-linecap="round"/>
<line x1="287.74" y1="25.04" x2="288.68" y2="25.41" stroke="#983d9c" stroke-width="1.0" stroke-linecap="round"/>
<line x1="288.68" y1="25.41" x2="289.62" y2="25.81" stroke="#a77ca5" stroke-width="1.0" stroke-linecap="round"/>
<line x1="289.62" y1="25.81" x2="290.54" y2="26.23" stroke="#9f3c94" stroke-width="1.0" stroke-linecap="round"/>
<line x1="290.54" y1="26.23" x2="291.46" y2="26.66" stroke="#a33c8f" stroke-width="1.0" stroke-linecap="round"/>
<line x1="291.46" y1="26.66" x2="292.37" y2="27.11" stroke="#ac7b9f" stroke-width="1.0" stroke-linecap="round"/>
<line x1="292.37" y1="27.11" x2="293.29" y2="27.56" stroke="#aa3b87" stroke-width="1.0" stroke-linecap="round"/>
<line x1="293.29" y1="27.56" x2="294.20" y2="28.00" stroke="#ae3a82" stroke-width="1.0" stroke-linecap="round"/>
<line x1="227.00" y1="16.80" x2="227.87" y2="16.30" stroke="#8040b8" stroke-width="1.0" stroke-linecap="round"/>
<line x1="227.87" y1="16.30" x2="228.74" y2="15.79" stroke="#9a7eb4" stroke-width="1.0" stroke-linecap="round"/>
<line x1="228.74" y1="15.79" x2="229.62" y2="15.30" stroke="#8040b8" stroke-width="1.0" stroke-linecap="round"/>
<line x1="229.62" y1="15.30" x2="230.52" y2="14.83" stroke="#8040b8" stroke-width="1.0" stroke-linecap="round"/>
<line x1="230.52" y1="14.83" x2="231.44" y2="14.42" stroke="#9a7eb4" stroke-width="1.0" stroke-linecap="round"/>
<line x1="231.44" y1="14.42" x2="232.38" y2="14.06" stroke="#8040b8" stroke-width="1.0" stroke-linecap="round"/>
<line x1="232.38" y1="14.06" x2="233.33" y2="13.73" stroke="#8040b8" stroke-width="1.0" stroke-linecap="round"/>
<line x1="233.33" y1="13.73" x2="234.29" y2="13.42" stroke="#9a7eb4" stroke-width="1.0" stroke-linecap="round"/>
<line x1="234.29" y1="13.42" x2="235.25" y2="13.13" stroke="#8040b8" stroke-width="1.0" stroke-linecap="round"/>
<line x1="235.25" y1="13.13" x2="236.23" y2="12.89" stroke="#8040b8" stroke-width="1.0" stroke-linecap="round"/>
<line x1="236.23" y1="12.89" x2="237.23" y2="12.72" stroke="#9a7eb4" stroke-width="1.0" stroke-linecap="round"/>
<line x1="237.23" y1="12.72" x2="238.23" y2="12.61" stroke="#8040b8" stroke-width="1.0" stroke-linecap="round"/>
<line x1="238.23" y1="12.61" x2="239.24" y2="12.61" stroke="#8040b8" stroke-width="1.0" stroke-linecap="round"/>
<line x1="239.24" y1="12.61" x2="240.24" y2="12.70" stroke="#9a7eb4" stroke-width="1.0" stroke-linecap="round"/>
<line x1="240.24" y1="12.70" x2="241.24" y2="12.84" stroke="#873fb0" stroke-width="1.0" stroke-linecap="round"/>
<line x1="241.24" y1="12.84" x2="242.22" y2="13.04" stroke="#8e3ea7" stroke-width="1.0" stroke-linecap="round"/>
<line x1="242.22" y1="13.04" x2="243.20" y2="13.29" stroke="#a47ca8" stroke-width="1.0" stroke-linecap="round"/>
<line x1="243.20" y1="13.29" x2="244.17" y2="13.58" stroke="#9c3c97" stroke-width="1.0" stroke-linecap="round"/>
<line x1="244.17" y1="13.58" x2="245.12" y2="13.91" stroke="#a43c8f" stroke-width="1.0" stroke-linecap="round"/>
<line x1="245.12" y1="13.91" x2="246.05" y2="14.28" stroke="#ae7b9d" stroke-width="1.0" stroke-linecap="round"/>
<line x1="246.05" y1="14.28" x2="246.96" y2="14.73" stroke="#b4397b" stroke-width="1.0" stroke-linecap="round"/>
<line x1="246.96" y1="14.73" x2="247.83" y2="15.24" stroke="#c33567" stroke-width="1.0" stroke-linecap="round"/>
<line x1="247.83" y1="15.24" x2="248.67" y2="15.79" stroke="#bf7786" stroke-width="1.0" stroke-linecap="round"/>
<line x1="248.67" y1="15.79" x2="249.49" y2="16.38" stroke="#d8304a" stroke-width="1.0" stroke-linecap="round"/>
<line x1="249.49" y1="16.38" x2="250.29" y2="16.99" stroke="#d8304a" stroke-width="1.0" stroke-linecap="round"/>
<line x1="250.29" y1="16.99" x2="251.09" y2="17.60" stroke="#c27682" stroke-width="1.0" stroke-linecap="round"/>
<line x1="251.09" y1="17.60" x2="251.90" y2="18.20" stroke="#d8304a" stroke-width="1.0" stroke-linecap="round"/>
<line x1="223.20" y1="19.30" x2="222.10" y2="19.60" stroke="#4c48e0" stroke-width="1.0" stroke-linecap="round"/>
<line x1="222.10" y1="19.60" x2="221.00" y2="19.90" stroke="#8381c6" stroke-width="1.0" stroke-linecap="round"/>
<line x1="221.00" y1="19.90" x2="220.00" y2="20.09" stroke="#d8304a" stroke-width="1.0" stroke-linecap="round"/>
<line x1="220.00" y1="20.09" x2="219.01" y2="20.27" stroke="#c27682" stroke-width="1.0" stroke-linecap="round"/>
<line x1="219.01" y1="20.27" x2="218.00" y2="20.42" stroke="#d8304a" stroke-width="1.0" stroke-linecap="round"/>
<line x1="218.00" y1="20.42" x2="217.00" y2="20.57" stroke="#d6304c" stroke-width="1.0" stroke-linecap="round"/>
<line x1="217.00" y1="20.57" x2="216.00" y2="20.71" stroke="#ba788c" stroke-width="1.0" stroke-linecap="round"/>
<line x1="216.00" y1="20.71" x2="214.99" y2="20.86" stroke="#b73876" stroke-width="1.0" stroke-linecap="round"/>
<line x1="214.99" y1="20.86" x2="213.99" y2="21.00" stroke="#aa3b87" stroke-width="1.0" stroke-linecap="round"/>
<line x1="213.99" y1="21.00" x2="212.99" y2="21.15" stroke="#a87ca3" stroke-width="1.0" stroke-linecap="round"/>
<line x1="212.99" y1="21.15" x2="211.98" y2="21.29" stroke="#933ea2" stroke-width="1.0" stroke-linecap="round"/>
<line x1="211.98" y1="21.29" x2="210.98" y2="21.43" stroke="#883faf" stroke-width="1.0" stroke-linecap="round"/>
<line x1="210.98" y1="21.43" x2="209.98" y2="21.58" stroke="#9c7db1" stroke-width="1.0" stroke-linecap="round"/>
<line x1="209.98" y1="21.58" x2="208.98" y2="21.74" stroke="#923ea3" stroke-width="1.0" stroke-linecap="round"/>
<line x1="208.98" y1="21.74" x2="207.98" y2="21.91" stroke="#a03c92" stroke-width="1.0" stroke-linecap="round"/>
<line x1="207.98" y1="21.91" x2="206.98" y2="22.10" stroke="#b07b9b" stroke-width="1.0" stroke-linecap="round"/>
<line x1="206.98" y1="22.10" x2="205.99" y2="22.30" stroke="#bb3772" stroke-width="1.0" stroke-linecap="round"/>
<line x1="205.99" y1="22.30" x2="204.99" y2="22.50" stroke="#c63462" stroke-width="1.0" stroke-linecap="round"/>
<line x1="204.99" y1="22.50" x2="204.00" y2="22.70" stroke="#bf7786" stroke-width="1.0" stroke-linecap="round"/>
<line x1="201.3" y1="23.4" x2="177.2" y2="31.1" stroke="#3c3ce8" stroke-width="1.15"/>
<line x1="177.20" y1="31.10" x2="176.19" y2="31.18" stroke="#d6304c" stroke-width="1.0" stroke-linecap="round"/>
<line x1="176.19" y1="31.18" x2="175.19" y2="31.25" stroke="#c07785" stroke-width="1.0" stroke-linecap="round"/>
<line x1="175.19" y1="31.25" x2="174.18" y2="31.32" stroke="#cf3256" stroke-width="1.0" stroke-linecap="round"/>
<line x1="174.18" y1="31.32" x2="173.18" y2="31.41" stroke="#cc335a" stroke-width="1.0" stroke-linecap="round"/>
<line x1="173.18" y1="31.41" x2="172.17" y2="31.50" stroke="#bb788c" stroke-width="1.0" stroke-linecap="round"/>
<line x1="172.17" y1="31.50" x2="171.17" y2="31.63" stroke="#c53564" stroke-width="1.0" stroke-linecap="round"/>
<line x1="171.17" y1="31.63" x2="170.18" y2="31.79" stroke="#c13668" stroke-width="1.0" stroke-linecap="round"/>
<line x1="170.18" y1="31.79" x2="169.19" y2="32.00" stroke="#b67992" stroke-width="1.0" stroke-linecap="round"/>
<line x1="169.19" y1="32.00" x2="168.22" y2="32.28" stroke="#bb3772" stroke-width="1.0" stroke-linecap="round"/>
<line x1="168.22" y1="32.28" x2="167.26" y2="32.59" stroke="#b73876" stroke-width="1.0" stroke-linecap="round"/>
<line x1="167.26" y1="32.59" x2="166.31" y2="32.94" stroke="#b27a98" stroke-width="1.0" stroke-linecap="round"/>
<line x1="166.31" y1="32.94" x2="165.38" y2="33.32" stroke="#b03a80" stroke-width="1.0" stroke-linecap="round"/>
<line x1="165.38" y1="33.32" x2="164.46" y2="33.73" stroke="#b5397a" stroke-width="1.0" stroke-linecap="round"/>
<line x1="164.46" y1="33.73" x2="163.55" y2="34.17" stroke="#b47a95" stroke-width="1.0" stroke-linecap="round"/>
<line x1="163.55" y1="34.17" x2="162.65" y2="34.62" stroke="#be366d" stroke-width="1.0" stroke-linecap="round"/>
<line x1="162.65" y1="34.62" x2="161.75" y2="35.08" stroke="#c33566" stroke-width="1.0" stroke-linecap="round"/>
<line x1="161.75" y1="35.08" x2="160.86" y2="35.56" stroke="#bb788c" stroke-width="1.0" stroke-linecap="round"/>
<line x1="160.86" y1="35.56" x2="159.99" y2="36.06" stroke="#cd3359" stroke-width="1.0" stroke-linecap="round"/>
<line x1="159.99" y1="36.06" x2="159.12" y2="36.58" stroke="#d23253" stroke-width="1.0" stroke-linecap="round"/>
<line x1="159.12" y1="36.58" x2="158.27" y2="37.12" stroke="#c27683" stroke-width="1.0" stroke-linecap="round"/>
<line x1="158.27" y1="37.12" x2="157.42" y2="37.67" stroke="#cf3256" stroke-width="1.0" stroke-linecap="round"/>
<line x1="157.42" y1="37.67" x2="156.58" y2="38.23" stroke="#c13466" stroke-width="1.0" stroke-linecap="round"/>
<line x1="156.58" y1="38.23" x2="155.75" y2="38.80" stroke="#b27a96" stroke-width="1.0" stroke-linecap="round"/>
<line x1="155.75" y1="38.80" x2="154.92" y2="39.37" stroke="#a73988" stroke-width="1.0" stroke-linecap="round"/>
<line x1="154.92" y1="39.37" x2="154.10" y2="39.96" stroke="#993b98" stroke-width="1.0" stroke-linecap="round"/>
<line x1="154.10" y1="39.96" x2="153.30" y2="40.57" stroke="#a07dad" stroke-width="1.0" stroke-linecap="round"/>
<line x1="153.30" y1="40.57" x2="152.50" y2="41.18" stroke="#8040b8" stroke-width="1.0" stroke-linecap="round"/>
<line x1="152.50" y1="41.18" x2="151.71" y2="41.81" stroke="#7b41bc" stroke-width="1.0" stroke-linecap="round"/>
<line x1="151.71" y1="41.81" x2="150.92" y2="42.44" stroke="#967fb7" stroke-width="1.0" stroke-linecap="round"/>
<line x1="150.92" y1="42.44" x2="150.14" y2="43.08" stroke="#7144c3" stroke-width="1.0" stroke-linecap="round"/>
<line x1="150.14" y1="43.08" x2="149.36" y2="43.72" stroke="#6c45c7" stroke-width="1.0" stroke-linecap="round"/>
<line x1="149.36" y1="43.72" x2="148.58" y2="44.36" stroke="#8f80bc" stroke-width="1.0" stroke-linecap="round"/>
<line x1="148.58" y1="44.36" x2="147.80" y2="45.00" stroke="#6247ce" stroke-width="1.0" stroke-linecap="round"/>
<line x1="147.80" y1="45.00" x2="146.78" y2="45.07" stroke="#4c48e0" stroke-width="1.0" stroke-linecap="round"/>
<line x1="146.78" y1="45.07" x2="145.76" y2="45.13" stroke="#8381c6" stroke-width="1.0" stroke-linecap="round"/>
<line x1="145.76" y1="45.13" x2="144.74" y2="45.20" stroke="#4c48e0" stroke-width="1.0" stroke-linecap="round"/>
<line x1="144.74" y1="45.20" x2="143.72" y2="45.27" stroke="#4c48e0" stroke-width="1.0" stroke-linecap="round"/>
<line x1="143.72" y1="45.27" x2="142.70" y2="45.34" stroke="#8381c6" stroke-width="1.0" stroke-linecap="round"/>
<line x1="142.70" y1="45.34" x2="141.68" y2="45.43" stroke="#4c48e0" stroke-width="1.0" stroke-linecap="round"/>
<line x1="141.68" y1="45.43" x2="140.66" y2="45.52" stroke="#4c48e0" stroke-width="1.0" stroke-linecap="round"/>
<line x1="140.66" y1="45.52" x2="139.65" y2="45.64" stroke="#8381c6" stroke-width="1.0" stroke-linecap="round"/>
<line x1="139.65" y1="45.64" x2="138.63" y2="45.73" stroke="#4c48e0" stroke-width="1.0" stroke-linecap="round"/>
<line x1="138.63" y1="45.73" x2="137.61" y2="45.82" stroke="#4c48e0" stroke-width="1.0" stroke-linecap="round"/>
<line x1="137.61" y1="45.82" x2="136.61" y2="46.02" stroke="#8381c6" stroke-width="1.0" stroke-linecap="round"/>
<line x1="136.61" y1="46.02" x2="135.69" y2="46.47" stroke="#4c48e0" stroke-width="1.0" stroke-linecap="round"/>
<line x1="135.69" y1="46.47" x2="134.92" y2="47.13" stroke="#4c48e0" stroke-width="1.0" stroke-linecap="round"/>
<line x1="134.92" y1="47.13" x2="134.27" y2="47.92" stroke="#8381c6" stroke-width="1.0" stroke-linecap="round"/>
<line x1="134.27" y1="47.92" x2="133.69" y2="48.76" stroke="#4c48e0" stroke-width="1.0" stroke-linecap="round"/>
<line x1="133.69" y1="48.76" x2="133.15" y2="49.63" stroke="#4c48e0" stroke-width="1.0" stroke-linecap="round"/>
<line x1="133.15" y1="49.63" x2="132.62" y2="50.50" stroke="#8381c6" stroke-width="1.0" stroke-linecap="round"/>
<line x1="132.62" y1="50.50" x2="132.08" y2="51.37" stroke="#4c48e0" stroke-width="1.0" stroke-linecap="round"/>
<line x1="132.08" y1="51.37" x2="131.53" y2="52.23" stroke="#4c48e0" stroke-width="1.0" stroke-linecap="round"/>
<line x1="131.53" y1="52.23" x2="131.00" y2="53.11" stroke="#8381c6" stroke-width="1.0" stroke-linecap="round"/>
<line x1="131.00" y1="53.11" x2="130.50" y2="54.00" stroke="#4c48e0" stroke-width="1.0" stroke-linecap="round"/>
<line x1="129.40" y1="56.80" x2="128.37" y2="56.84" stroke="#d6314d" stroke-width="1.0" stroke-linecap="round"/>
<line x1="128.37" y1="56.84" x2="127.34" y2="56.88" stroke="#bf7787" stroke-width="1.0" stroke-linecap="round"/>
<line x1="127.34" y1="56.88" x2="126.31" y2="56.92" stroke="#cc335b" stroke-width="1.0" stroke-linecap="round"/>
<line x1="126.31" y1="56.92" x2="125.28" y2="56.96" stroke="#c73461" stroke-width="1.0" stroke-linecap="round"/>
<line x1="125.28" y1="56.96" x2="124.25" y2="57.00" stroke="#b87990" stroke-width="1.0" stroke-linecap="round"/>
<line x1="124.25" y1="57.00" x2="123.22" y2="57.05" stroke="#bd376f" stroke-width="1.0" stroke-linecap="round"/>
<line x1="123.22" y1="57.05" x2="122.19" y2="57.09" stroke="#b83876" stroke-width="1.0" stroke-linecap="round"/>
<line x1="122.19" y1="57.09" x2="121.16" y2="57.14" stroke="#b17a99" stroke-width="1.0" stroke-linecap="round"/>
<line x1="121.16" y1="57.14" x2="120.13" y2="57.18" stroke="#ad3a84" stroke-width="1.0" stroke-linecap="round"/>
<line x1="120.13" y1="57.18" x2="119.10" y2="57.23" stroke="#a63b8c" stroke-width="1.0" stroke-linecap="round"/>
<line x1="119.10" y1="57.23" x2="118.07" y2="57.28" stroke="#a87ca3" stroke-width="1.0" stroke-linecap="round"/>
<line x1="118.07" y1="57.28" x2="117.04" y2="57.35" stroke="#983d9c" stroke-width="1.0" stroke-linecap="round"/>
<line x1="117.04" y1="57.35" x2="116.01" y2="57.42" stroke="#913ea4" stroke-width="1.0" stroke-linecap="round"/>
<line x1="116.01" y1="57.42" x2="114.98" y2="57.50" stroke="#9f7dae" stroke-width="1.0" stroke-linecap="round"/>
<line x1="114.98" y1="57.50" x2="113.95" y2="57.59" stroke="#8340b4" stroke-width="1.0" stroke-linecap="round"/>
<line x1="113.95" y1="57.59" x2="112.92" y2="57.68" stroke="#7c41bb" stroke-width="1.0" stroke-linecap="round"/>
<line x1="112.92" y1="57.68" x2="111.90" y2="57.78" stroke="#967fb7" stroke-width="1.0" stroke-linecap="round"/>
<line x1="111.90" y1="57.78" x2="110.87" y2="57.89" stroke="#7043c5" stroke-width="1.0" stroke-linecap="round"/>
<line x1="110.87" y1="57.89" x2="109.85" y2="58.02" stroke="#6944ca" stroke-width="1.0" stroke-linecap="round"/>
<line x1="109.85" y1="58.02" x2="108.83" y2="58.18" stroke="#8d80be" stroke-width="1.0" stroke-linecap="round"/>
<line x1="108.83" y1="58.18" x2="107.82" y2="58.37" stroke="#5c46d4" stroke-width="1.0" stroke-linecap="round"/>
<line x1="107.82" y1="58.37" x2="106.81" y2="58.59" stroke="#5647d9" stroke-width="1.0" stroke-linecap="round"/>
<line x1="106.81" y1="58.59" x2="105.80" y2="58.80" stroke="#8481c5" stroke-width="1.0" stroke-linecap="round"/>
<line x1="96.20" y1="86.00" x2="96.10" y2="87.00" stroke="#d8304a" stroke-width="1.1" stroke-linecap="round"/>
<line x1="96.10" y1="87.00" x2="96.00" y2="88.00" stroke="#c27682" stroke-width="1.1" stroke-linecap="round"/>
<circle cx="259.2" cy="171.6" r="0.8" fill="#4040e0"/>
<path d="M207.4,190.2 L208.4,206.6" fill="none" stroke="#3030e0" stroke-width="1.6" stroke-linecap="round" stroke-linejoin="round"/>
<path d="M227.2,188.9 L230.7,197.4" fill="none" stroke="#e82020" stroke-width="1.6" stroke-linecap="round" stroke-linejoin="round"/>
<path d="M321.2,76.2 L325.5,76.6 L326,77.6 L321.2,78.4 Z" fill="#e82020"/>
<text x="239.9" y="5.1" font-size="5.0" text-anchor="start" fill="#111" stroke="#111" stroke-width="0.12">MT-ND1</text>
<text x="278.9" y="13.3" font-size="5.0" text-anchor="start" fill="#111" stroke="#111" stroke-width="0.12">MT-RNR2</text>
<text x="129.8" y="31.7" font-size="5.0" text-anchor="start" fill="#111" stroke="#111" stroke-width="0.12">MT-CO1</text>
<text x="196.2" y="31.7" font-size="5.0" text-anchor="start" fill="#111" stroke="#111" stroke-width="0.12">MT-ND2</text>
<text x="178" y="39.0" font-size="5.0" text-anchor="start" fill="#111" stroke="#111" stroke-width="0.12">MT-TA-201</text>
<text x="98.1" y="48.9" font-size="5.0" text-anchor="start" fill="#111" stroke="#111" stroke-width="0.12">MT-CO2</text>
<text x="68.6" y="85.1" font-size="5.0" text-anchor="start" fill="#111" stroke="#111" stroke-width="0.12">MT-CO2</text>
<text x="285.2" y="75.9" font-size="5.0" text-anchor="start" fill="#111" stroke="#111" stroke-width="0.12">MT-RNR1</text>
<text x="52.2" y="148.1" font-size="5.0" text-anchor="start" fill="#111" stroke="#111" stroke-width="0.12">MT-ND4</text>
<text x="102" y="183.7" font-size="5.0" text-anchor="start" fill="#111" stroke="#111" stroke-width="0.12">MT-ND5</text>
<text x="190" y="179.3" font-size="5.0" text-anchor="start" fill="#111" stroke="#111" stroke-width="0.12">MT-CYB</text>
<path d="M436.20,194.20 L436.20,179.05 L440.63,179.05 L440.63,172.99 L445.06,172.99 L445.06,163.90 L449.49,163.90 L449.49,157.84 L453.92,157.84 L453.92,157.84 L458.35,157.84 L458.35,157.84 L462.78,157.84 L462.78,154.81 L467.21,154.81 L467.21,154.81 L471.64,154.81 L471.64,154.81 L476.07,154.81 L476.07,148.75 L480.50,148.75 L480.50,148.75 L484.93,148.75 L484.93,148.75 L489.36,148.75 L489.36,145.72 L493.79,145.72 L493.79,145.72 L498.22,145.72 L498.22,139.66 L502.65,139.66 L502.65,139.66 L507.08,139.66 L507.08,139.66 L511.51,139.66 L511.51,136.63 L515.94,136.63 L515.94,136.63 L520.37,136.63 L520.37,133.60 L524.80,133.60 L524.80,133.60 L529.23,133.60 L529.23,130.57 L533.66,130.57 L533.66,130.57 L538.09,130.57 L538.09,130.57 L542.52,130.57 L542.52,130.57 L546.95,130.57 L546.95,130.57 L551.38,130.57 L551.38,130.57 L555.81,130.57 L555.81,130.57 L560.24,130.57 L560.24,124.51 L564.67,124.51 L564.67,124.51 L569.10,124.51 L569.10,124.51 L573.53,124.51 L573.53,124.51 L577.96,124.51 L577.96,124.51 L582.39,124.51 L582.39,121.48 L586.82,121.48 L586.82,121.48 L591.25,121.48 L591.25,118.45 L595.68,118.45 L595.68,112.39 L600.11,112.39 L600.11,112.39 L604.54,112.39 L604.54,109.36 L608.97,109.36 L608.97,109.36 L613.40,109.36 L613.40,106.33 L617.83,106.33 L617.83,103.30 L622.26,103.30 L622.26,103.30 L626.69,103.30 L626.69,100.27 L631.12,100.27 L631.12,100.27 L635.55,100.27 L635.55,100.27 L639.98,100.27 L639.98,94.21 L644.41,94.21 L644.41,94.21 L648.84,94.21 L648.84,94.21 L653.27,94.21 L653.27,88.15 L657.70,88.15 L657.70,79.06 L662.13,79.06 L662.13,66.94 L666.56,66.94 L666.56,51.79 L670.99,51.79 L670.99,194.20 Z" fill="#a6a3e2"/>
<path d="M436.20,194.20 L436.20,188.14 L440.63,188.14 L440.63,182.08 L445.06,182.08 L445.06,163.90 L449.49,163.90 L449.49,169.96 L453.92,169.96 L453.92,182.08 L458.35,182.08 L458.35,172.99 L462.78,172.99 L462.78,166.93 L467.21,166.93 L467.21,182.08 L471.64,182.08 L471.64,163.90 L476.07,163.90 L476.07,151.78 L480.50,151.78 L480.50,157.84 L484.93,157.84 L484.93,166.93 L489.36,166.93 L489.36,151.78 L493.79,151.78 L493.79,145.72 L498.22,145.72 L498.22,163.90 L502.65,163.90 L502.65,160.87 L507.08,160.87 L507.08,160.87 L511.51,160.87 L511.51,166.93 L515.94,166.93 L515.94,176.02 L520.37,176.02 L520.37,148.75 L524.80,148.75 L524.80,157.84 L529.23,157.84 L529.23,154.81 L533.66,154.81 L533.66,169.96 L538.09,169.96 L538.09,142.69 L542.52,142.69 L542.52,166.93 L546.95,166.93 L546.95,145.72 L551.38,145.72 L551.38,169.96 L555.81,169.96 L555.81,157.84 L560.24,157.84 L560.24,133.60 L564.67,133.60 L564.67,139.66 L569.10,139.66 L569.10,139.66 L573.53,139.66 L573.53,154.81 L577.96,154.81 L577.96,166.93 L582.39,166.93 L582.39,136.63 L586.82,136.63 L586.82,142.69 L591.25,142.69 L591.25,151.78 L595.68,151.78 L595.68,148.75 L600.11,148.75 L600.11,151.78 L604.54,151.78 L604.54,151.78 L608.97,151.78 L608.97,151.78 L613.40,151.78 L613.40,142.69 L617.83,142.69 L617.83,115.42 L622.26,115.42 L622.26,118.45 L626.69,118.45 L626.69,151.78 L631.12,151.78 L631.12,139.66 L635.55,139.66 L635.55,166.93 L639.98,166.93 L639.98,118.45 L644.41,118.45 L644.41,118.45 L648.84,118.45 L648.84,124.51 L653.27,124.51 L653.27,163.90 L657.70,163.90 L657.70,130.57 L662.13,130.57 L662.13,109.36 L666.56,109.36 L666.56,103.30 L670.99,103.30 L670.99,194.20 Z" fill="#231f6c"/>
<line x1="440.63" y1="179.05" x2="440.63" y2="194.20" stroke="#ffffff" stroke-opacity="0.10" stroke-width="0.5"/>
<line x1="445.06" y1="172.99" x2="445.06" y2="194.20" stroke="#ffffff" stroke-opacity="0.10" stroke-width="0.5"/>
<line x1="449.49" y1="163.90" x2="449.49" y2="194.20" stroke="#ffffff" stroke-opacity="0.10" stroke-width="0.5"/>
<line x1="453.92" y1="157.84" x2="453.92" y2="194.20" stroke="#ffffff" stroke-opacity="0.10" stroke-width="0.5"/>
<line x1="458.35" y1="157.84" x2="458.35" y2="194.20" stroke="#ffffff" stroke-opacity="0.10" stroke-width="0.5"/>
<line x1="462.78" y1="157.84" x2="462.78" y2="194.20" stroke="#ffffff" stroke-opacity="0.10" stroke-width="0.5"/>
<line x1="467.21" y1="154.81" x2="467.21" y2="194.20" stroke="#ffffff" stroke-opacity="0.10" stroke-width="0.5"/>
<line x1="471.64" y1="154.81" x2="471.64" y2="194.20" stroke="#ffffff" stroke-opacity="0.10" stroke-width="0.5"/>
<line x1="476.07" y1="154.81" x2="476.07" y2="194.20" stroke="#ffffff" stroke-opacity="0.10" stroke-width="0.5"/>
<line x1="480.50" y1="148.75" x2="480.50" y2="194.20" stroke="#ffffff" stroke-opacity="0.10" stroke-width="0.5"/>
<line x1="484.93" y1="148.75" x2="484.93" y2="194.20" stroke="#ffffff" stroke-opacity="0.10" stroke-width="0.5"/>
<line x1="489.36" y1="148.75" x2="489.36" y2="194.20" stroke="#ffffff" stroke-opacity="0.10" stroke-width="0.5"/>
<line x1="493.79" y1="145.72" x2="493.79" y2="194.20" stroke="#ffffff" stroke-opacity="0.10" stroke-width="0.5"/>
<line x1="498.22" y1="145.72" x2="498.22" y2="194.20" stroke="#ffffff" stroke-opacity="0.10" stroke-width="0.5"/>
<line x1="502.65" y1="139.66" x2="502.65" y2="194.20" stroke="#ffffff" stroke-opacity="0.10" stroke-width="0.5"/>
<line x1="507.08" y1="139.66" x2="507.08" y2="194.20" stroke="#ffffff" stroke-opacity="0.10" stroke-width="0.5"/>
<line x1="511.51" y1="139.66" x2="511.51" y2="194.20" stroke="#ffffff" stroke-opacity="0.10" stroke-width="0.5"/>
<line x1="515.94" y1="136.63" x2="515.94" y2="194.20" stroke="#ffffff" stroke-opacity="0.10" stroke-width="0.5"/>
<line x1="520.37" y1="136.63" x2="520.37" y2="194.20" stroke="#ffffff" stroke-opacity="0.10" stroke-width="0.5"/>
<line x1="524.80" y1="133.60" x2="524.80" y2="194.20" stroke="#ffffff" stroke-opacity="0.10" stroke-width="0.5"/>
<line x1="529.23" y1="133.60" x2="529.23" y2="194.20" stroke="#ffffff" stroke-opacity="0.10" stroke-width="0.5"/>
<line x1="533.66" y1="130.57" x2="533.66" y2="194.20" stroke="#ffffff" stroke-opacity="0.10" stroke-width="0.5"/>
<line x1="538.09" y1="130.57" x2="538.09" y2="194.20" stroke="#ffffff" stroke-opacity="0.10" stroke-width="0.5"/>
<line x1="542.52" y1="130.57" x2="542.52" y2="194.20" stroke="#ffffff" stroke-opacity="0.10" stroke-width="0.5"/>
<line x1="546.95" y1="130.57" x2="546.95" y2="194.20" stroke="#ffffff" stroke-opacity="0.10" stroke-width="0.5"/>
<line x1="551.38" y1="130.57" x2="551.38" y2="194.20" stroke="#ffffff" stroke-opacity="0.10" stroke-width="0.5"/>
<line x1="555.81" y1="130.57" x2="555.81" y2="194.20" stroke="#ffffff" stroke-opacity="0.10" stroke-width="0.5"/>
<line x1="560.24" y1="130.57" x2="560.24" y2="194.20" stroke="#ffffff" stroke-opacity="0.10" stroke-width="0.5"/>
<line x1="564.67" y1="124.51" x2="564.67" y2="194.20" stroke="#ffffff" stroke-opacity="0.10" stroke-width="0.5"/>
<line x1="569.10" y1="124.51" x2="569.10" y2="194.20" stroke="#ffffff" stroke-opacity="0.10" stroke-width="0.5"/>
<line x1="573.53" y1="124.51" x2="573.53" y2="194.20" stroke="#ffffff" stroke-opacity="0.10" stroke-width="0.5"/>
<line x1="577.96" y1="124.51" x2="577.96" y2="194.20" stroke="#ffffff" stroke-opacity="0.10" stroke-width="0.5"/>
<line x1="582.39" y1="124.51" x2="582.39" y2="194.20" stroke="#ffffff" stroke-opacity="0.10" stroke-width="0.5"/>
<line x1="586.82" y1="121.48" x2="586.82" y2="194.20" stroke="#ffffff" stroke-opacity="0.10" stroke-width="0.5"/>
<line x1="591.25" y1="121.48" x2="591.25" y2="194.20" stroke="#ffffff" stroke-opacity="0.10" stroke-width="0.5"/>
<line x1="595.68" y1="118.45" x2="595.68" y2="194.20" stroke="#ffffff" stroke-opacity="0.10" stroke-width="0.5"/>
<line x1="600.11" y1="112.39" x2="600.11" y2="194.20" stroke="#ffffff" stroke-opacity="0.10" stroke-width="0.5"/>
<line x1="604.54" y1="112.39" x2="604.54" y2="194.20" stroke="#ffffff" stroke-opacity="0.10" stroke-width="0.5"/>
<line x1="608.97" y1="109.36" x2="608.97" y2="194.20" stroke="#ffffff" stroke-opacity="0.10" stroke-width="0.5"/>
<line x1="613.40" y1="109.36" x2="613.40" y2="194.20" stroke="#ffffff" stroke-opacity="0.10" stroke-width="0.5"/>
<line x1="617.83" y1="106.33" x2="617.83" y2="194.20" stroke="#ffffff" stroke-opacity="0.10" stroke-width="0.5"/>
<line x1="622.26" y1="103.30" x2="622.26" y2="194.20" stroke="#ffffff" stroke-opacity="0.10" stroke-width="0.5"/>
<line x1="626.69" y1="103.30" x2="626.69" y2="194.20" stroke="#ffffff" stroke-opacity="0.10" stroke-width="0.5"/>
<line x1="631.12" y1="100.27" x2="631.12" y2="194.20" stroke="#ffffff" stroke-opacity="0.10" stroke-width="0.5"/>
<line x1="635.55" y1="100.27" x2="635.55" y2="194.20" stroke="#ffffff" stroke-opacity="0.10" stroke-width="0.5"/>
<line x1="639.98" y1="100.27" x2="639.98" y2="194.20" stroke="#ffffff" stroke-opacity="0.10" stroke-width="0.5"/>
<line x1="644.41" y1="94.21" x2="644.41" y2="194.20" stroke="#ffffff" stroke-opacity="0.10" stroke-width="0.5"/>
<line x1="648.84" y1="94.21" x2="648.84" y2="194.20" stroke="#ffffff" stroke-opacity="0.10" stroke-width="0.5"/>
<line x1="653.27" y1="94.21" x2="653.27" y2="194.20" stroke="#ffffff" stroke-opacity="0.10" stroke-width="0.5"/>
<line x1="657.70" y1="88.15" x2="657.70" y2="194.20" stroke="#ffffff" stroke-opacity="0.10" stroke-width="0.5"/>
<line x1="662.13" y1="79.06" x2="662.13" y2="194.20" stroke="#ffffff" stroke-opacity="0.10" stroke-width="0.5"/>
<line x1="666.56" y1="66.94" x2="666.56" y2="194.20" stroke="#ffffff" stroke-opacity="0.10" stroke-width="0.5"/>
<line x1="434.2" y1="42.4" x2="434.2" y2="194.7" stroke="#808080" stroke-width="1"/>
<line x1="434.2" y1="194.2" x2="673" y2="194.2" stroke="#808080" stroke-width="1"/>
<line x1="432" y1="194.2" x2="434.2" y2="194.2" stroke="#808080" stroke-width="1"/>
<text x="430.2" y="196.29999999999998" font-size="8" text-anchor="end" fill="#222" stroke="#222" stroke-width="0.18">0</text>
<line x1="432" y1="179.04999999999998" x2="434.2" y2="179.04999999999998" stroke="#808080" stroke-width="1"/>
<text x="430.2" y="181.14999999999998" font-size="8" text-anchor="end" fill="#222" stroke="#222" stroke-width="0.18">5</text>
<line x1="432" y1="163.89999999999998" x2="434.2" y2="163.89999999999998" stroke="#808080" stroke-width="1"/>
<text x="430.2" y="165.99999999999997" font-size="8" text-anchor="end" fill="#222" stroke="#222" stroke-width="0.18">10</text>
<line x1="432" y1="148.75" x2="434.2" y2="148.75" stroke="#808080" stroke-width="1"/>
<text x="430.2" y="150.85" font-size="8" text-anchor="end" fill="#222" stroke="#222" stroke-width="0.18">15</text>
<line x1="432" y1="133.6" x2="434.2" y2="133.6" stroke="#808080" stroke-width="1"/>
<text x="430.2" y="135.7" font-size="8" text-anchor="end" fill="#222" stroke="#222" stroke-width="0.18">20</text>
<line x1="432" y1="118.44999999999999" x2="434.2" y2="118.44999999999999" stroke="#808080" stroke-width="1"/>
<text x="430.2" y="120.54999999999998" font-size="8" text-anchor="end" fill="#222" stroke="#222" stroke-width="0.18">25</text>
<line x1="432" y1="103.3" x2="434.2" y2="103.3" stroke="#808080" stroke-width="1"/>
<text x="430.2" y="105.39999999999999" font-size="8" text-anchor="end" fill="#222" stroke="#222" stroke-width="0.18">30</text>
<line x1="432" y1="88.14999999999999" x2="434.2" y2="88.14999999999999" stroke="#808080" stroke-width="1"/>
<text x="430.2" y="90.24999999999999" font-size="8" text-anchor="end" fill="#222" stroke="#222" stroke-width="0.18">35</text>
<line x1="432" y1="73.0" x2="434.2" y2="73.0" stroke="#808080" stroke-width="1"/>
<text x="430.2" y="75.1" font-size="8" text-anchor="end" fill="#222" stroke="#222" stroke-width="0.18">40</text>
<line x1="432" y1="57.849999999999994" x2="434.2" y2="57.849999999999994" stroke="#808080" stroke-width="1"/>
<text x="430.2" y="59.949999999999996" font-size="8" text-anchor="end" fill="#222" stroke="#222" stroke-width="0.18">45</text>
<line x1="432" y1="42.69999999999999" x2="434.2" y2="42.69999999999999" stroke="#808080" stroke-width="1"/>
<text x="430.2" y="44.79999999999999" font-size="8" text-anchor="end" fill="#222" stroke="#222" stroke-width="0.18">50</text>
<text x="399.9" y="120.2" font-size="8.6" text-anchor="middle" fill="#111" font-weight="bold" transform="rotate(-90 399.9 120.2)">Number of</text>
<text x="409.20000000000005" y="119.75" font-size="8.6" text-anchor="middle" fill="#111" font-weight="bold" transform="rotate(-90 409.20000000000005 119.75)">UPR-specific variants</text>
<text x="553.2" y="205.6" font-size="8.2" text-anchor="middle" fill="#111" font-weight="bold">Samples</text>
<rect x="595.80" y="9.00" width="19.90" height="5.30" fill="#231f6c"/>
<rect x="595.80" y="17.10" width="19.90" height="5.50" fill="#a6a3e2"/>
<text x="618.7" y="14.4" font-size="7.45" text-anchor="start" fill="#111">Polymorphism</text>
<text x="618.7" y="22.5" font-size="7.45" text-anchor="start" fill="#111">Singleton</text>
<line x1="53.6" y1="237.8" x2="53.6" y2="415.0" stroke="#808080" stroke-width="1"/>
<line x1="53.6" y1="414.5" x2="209.7" y2="414.5" stroke="#808080" stroke-width="1"/>
<line x1="51.5" y1="414.5" x2="53.6" y2="414.5" stroke="#808080" stroke-width="1"/>
<text x="49.2" y="417.8" font-size="9.4" text-anchor="end" fill="#222" stroke="#222" stroke-width="0.18">0.986</text>
<line x1="51.5" y1="370.29999999999995" x2="53.6" y2="370.29999999999995" stroke="#808080" stroke-width="1"/>
<text x="49.2" y="373.59999999999997" font-size="9.4" text-anchor="end" fill="#222" stroke="#222" stroke-width="0.18">0.988</text>
<line x1="51.5" y1="326.0999999999999" x2="53.6" y2="326.0999999999999" stroke="#808080" stroke-width="1"/>
<text x="49.2" y="329.3999999999999" font-size="9.4" text-anchor="end" fill="#222" stroke="#222" stroke-width="0.18">0.990</text>
<line x1="51.5" y1="281.89999999999986" x2="53.6" y2="281.89999999999986" stroke="#808080" stroke-width="1"/>
<text x="49.2" y="285.1999999999999" font-size="9.4" text-anchor="end" fill="#222" stroke="#222" stroke-width="0.18">0.992</text>
<line x1="51.5" y1="237.69999999999985" x2="53.6" y2="237.69999999999985" stroke="#808080" stroke-width="1"/>
<text x="49.2" y="240.99999999999986" font-size="9.4" text-anchor="end" fill="#222" stroke="#222" stroke-width="0.18">0.994</text>
<text x="17.9" y="327.9" font-size="10.8" text-anchor="middle" fill="#111" font-weight="bold" transform="rotate(-90 17.9 327.9)">Recall</text>
<text x="97" y="425.7" font-size="8.4" text-anchor="middle" fill="#111" font-weight="bold">Assembly</text>
<text x="166.5" y="425.7" font-size="8.45" text-anchor="middle" fill="#111" font-weight="bold">Pangenome</text>
<line x1="97" y1="257.4" x2="97" y2="270" stroke="#555" stroke-width="0.9"/>
<line x1="97" y1="387" x2="97" y2="403.8" stroke="#555" stroke-width="0.9"/>
<path d="M97.00,267.50 C97.10,267.83 97.33,268.83 97.60,269.50 C97.87,270.17 98.13,270.65 98.60,271.50 C99.07,272.35 99.73,273.58 100.40,274.60 C101.07,275.62 101.75,276.58 102.60,277.60 C103.45,278.62 104.47,279.68 105.50,280.70 C106.53,281.72 107.68,282.68 108.80,283.70 C109.92,284.72 111.17,285.83 112.20,286.80 C113.23,287.77 114.23,288.68 115.00,289.50 C115.77,290.32 116.30,291.02 116.80,291.70 C117.30,292.38 117.72,292.98 118.00,293.60 C118.28,294.22 118.48,294.75 118.50,295.40 C118.52,296.05 118.42,296.47 118.10,297.50 C117.78,298.53 117.35,299.90 116.60,301.60 C115.85,303.30 114.62,305.67 113.60,307.70 C112.58,309.73 111.63,311.55 110.50,313.80 C109.37,316.05 107.92,318.73 106.80,321.20 C105.68,323.67 104.57,326.88 103.80,328.60 C103.03,330.32 102.73,329.93 102.20,331.50 C101.67,333.07 100.40,335.83 100.60,338.00 C100.80,340.17 102.43,342.32 103.40,344.50 C104.37,346.68 105.57,348.92 106.40,351.10 C107.23,353.28 108.00,355.65 108.40,357.60 C108.80,359.55 108.97,360.85 108.80,362.80 C108.63,364.75 108.12,367.13 107.40,369.30 C106.68,371.47 105.63,373.63 104.50,375.80 C103.37,377.97 101.72,380.33 100.60,382.30 C99.48,384.27 98.40,386.48 97.80,387.60 C97.20,388.72 97.13,388.77 97.00,389.00 L97.00,389.00 C96.87,388.77 96.80,388.72 96.20,387.60 C95.60,386.48 94.52,384.27 93.40,382.30 C92.28,380.33 90.63,377.97 89.50,375.80 C88.37,373.63 87.32,371.47 86.60,369.30 C85.88,367.13 85.37,364.75 85.20,362.80 C85.03,360.85 85.20,359.55 85.60,357.60 C86.00,355.65 86.77,353.28 87.60,351.10 C88.43,348.92 89.63,346.68 90.60,344.50 C91.57,342.32 93.20,340.17 93.40,338.00 C93.60,335.83 92.33,333.07 91.80,331.50 C91.27,329.93 90.97,330.32 90.20,328.60 C89.43,326.88 88.32,323.67 87.20,321.20 C86.08,318.73 84.63,316.05 83.50,313.80 C82.37,311.55 81.42,309.73 80.40,307.70 C79.38,305.67 78.15,303.30 77.40,301.60 C76.65,299.90 76.22,298.53 75.90,297.50 C75.58,296.47 75.48,296.05 75.50,295.40 C75.52,294.75 75.72,294.22 76.00,293.60 C76.28,292.98 76.70,292.38 77.20,291.70 C77.70,291.02 78.23,290.32 79.00,289.50 C79.77,288.68 80.77,287.77 81.80,286.80 C82.83,285.83 84.08,284.72 85.20,283.70 C86.32,282.68 87.47,281.72 88.50,280.70 C89.53,279.68 90.55,278.62 91.40,277.60 C92.25,276.58 92.93,275.62 93.60,274.60 C94.27,273.58 94.93,272.35 95.40,271.50 C95.87,270.65 96.13,270.17 96.40,269.50 C96.67,268.83 96.90,267.83 97.00,267.50 Z" fill="#e6e6c5" stroke="#555" stroke-width="0.8"/>
<line x1="75.80" y1="294.2" x2="118.20" y2="294.2" stroke="#4a4a4a" stroke-width="1.0" stroke-dasharray="0.9,1.6"/>
<line x1="84.00" y1="312.0" x2="110.00" y2="312.0" stroke="#4a4a4a" stroke-width="1.4" stroke-dasharray="2.5,1.6"/>
<line x1="85.80" y1="356.0" x2="108.20" y2="356.0" stroke="#4a4a4a" stroke-width="1.0" stroke-dasharray="0.9,1.6"/>
<circle cx="89.60" cy="292.70" r="2.0" fill="none" stroke="#404040" stroke-width="0.85"/>
<circle cx="96.80" cy="294.20" r="2.0" fill="none" stroke="#404040" stroke-width="0.85"/>
<circle cx="104.10" cy="292.70" r="2.0" fill="none" stroke="#404040" stroke-width="0.85"/>
<circle cx="96.80" cy="298.50" r="2.0" fill="none" stroke="#404040" stroke-width="0.85"/>
<circle cx="96.80" cy="304.20" r="2.0" fill="none" stroke="#404040" stroke-width="0.85"/>
<circle cx="93.30" cy="319.40" r="2.0" fill="none" stroke="#404040" stroke-width="0.85"/>
<circle cx="100.70" cy="319.70" r="2.0" fill="none" stroke="#404040" stroke-width="0.85"/>
<circle cx="97.00" cy="353.20" r="2.0" fill="none" stroke="#404040" stroke-width="0.85"/>
<circle cx="97.00" cy="362.80" r="2.0" fill="none" stroke="#404040" stroke-width="0.85"/>
<circle cx="97.00" cy="368.00" r="2.0" fill="none" stroke="#404040" stroke-width="0.85"/>
<path d="M166.30,365.30 C166.82,365.80 167.87,367.28 169.40,368.30 C170.93,369.32 173.97,370.52 175.50,371.40 C177.03,372.28 178.63,372.73 178.60,373.60 C178.57,374.47 176.32,375.65 175.30,376.60 C174.28,377.55 171.60,378.42 172.50,379.30 C173.40,380.18 178.45,381.03 180.70,381.90 C182.95,382.77 184.85,383.85 186.00,384.50 C187.15,385.15 187.88,385.07 187.60,385.80 C187.32,386.53 185.43,387.80 184.30,388.90 C183.17,390.00 182.20,391.23 180.80,392.40 C179.40,393.57 177.58,394.88 175.90,395.90 C174.22,396.92 172.13,397.62 170.70,398.50 C169.27,399.38 168.03,400.62 167.30,401.20 C166.57,401.78 166.47,401.87 166.30,402.00 L166.30,402.00 C166.13,401.87 166.03,401.78 165.30,401.20 C164.57,400.62 163.33,399.38 161.90,398.50 C160.47,397.62 158.38,396.92 156.70,395.90 C155.02,394.88 153.20,393.57 151.80,392.40 C150.40,391.23 149.43,390.00 148.30,388.90 C147.17,387.80 145.28,386.53 145.00,385.80 C144.72,385.07 145.45,385.15 146.60,384.50 C147.75,383.85 149.65,382.77 151.90,381.90 C154.15,381.03 159.20,380.18 160.10,379.30 C161.00,378.42 158.32,377.55 157.30,376.60 C156.28,375.65 154.03,374.47 154.00,373.60 C153.97,372.73 155.57,372.28 157.10,371.40 C158.63,370.52 161.67,369.32 163.20,368.30 C164.73,367.28 165.78,365.80 166.30,365.30 Z" fill="#e6e6c5" stroke="#555" stroke-width="0.8"/>
<line x1="166.3" y1="363.5" x2="166.3" y2="366" stroke="#555" stroke-width="0.9"/>
<line x1="166.3" y1="401.5" x2="166.3" y2="404.2" stroke="#555" stroke-width="0.9"/>
<line x1="160.10" y1="379.3" x2="172.50" y2="379.3" stroke="#4a4a4a" stroke-width="1.0" stroke-dasharray="0.9,1.6"/>
<line x1="145.50" y1="385.8" x2="187.10" y2="385.8" stroke="#4a4a4a" stroke-width="1.4" stroke-dasharray="2.5,1.6"/>
<line x1="150.80" y1="391.1" x2="181.80" y2="391.1" stroke="#4a4a4a" stroke-width="1.0" stroke-dasharray="0.9,1.6"/>
<circle cx="163.00" cy="374.00" r="2.0" fill="none" stroke="#404040" stroke-width="0.85"/>
<circle cx="169.80" cy="374.00" r="2.0" fill="none" stroke="#404040" stroke-width="0.85"/>
<circle cx="173.30" cy="381.00" r="2.0" fill="none" stroke="#404040" stroke-width="0.85"/>
<circle cx="159.30" cy="383.60" r="2.0" fill="none" stroke="#404040" stroke-width="0.85"/>
<circle cx="166.30" cy="383.60" r="2.0" fill="none" stroke="#404040" stroke-width="0.85"/>
<circle cx="159.30" cy="387.80" r="2.0" fill="none" stroke="#404040" stroke-width="0.85"/>
<circle cx="166.30" cy="390.20" r="2.0" fill="none" stroke="#404040" stroke-width="0.85"/>
<circle cx="173.10" cy="386.70" r="2.0" fill="none" stroke="#404040" stroke-width="0.85"/>
<circle cx="173.10" cy="392.80" r="2.0" fill="none" stroke="#404040" stroke-width="0.85"/>
<circle cx="159.30" cy="395.00" r="2.0" fill="none" stroke="#404040" stroke-width="0.85"/>
<circle cx="166.50" cy="386.50" r="2.0" fill="none" stroke="#404040" stroke-width="0.85"/>
<line x1="266.5" y1="248.2" x2="266.5" y2="415.0" stroke="#808080" stroke-width="1"/>
<line x1="266.5" y1="414.5" x2="494.6" y2="414.5" stroke="#808080" stroke-width="1"/>
<line x1="264.4" y1="414.5" x2="266.5" y2="414.5" stroke="#808080" stroke-width="1"/>
<text x="261.9" y="417.5" font-size="8.5" text-anchor="end" fill="#222" stroke="#222" stroke-width="0.18">0</text>
<line x1="264.4" y1="386.78" x2="266.5" y2="386.78" stroke="#808080" stroke-width="1"/>
<text x="261.9" y="389.78" font-size="8.5" text-anchor="end" fill="#222" stroke="#222" stroke-width="0.18">0.005</text>
<line x1="264.4" y1="359.06" x2="266.5" y2="359.06" stroke="#808080" stroke-width="1"/>
<text x="261.9" y="362.06" font-size="8.5" text-anchor="end" fill="#222" stroke="#222" stroke-width="0.18">0.010</text>
<line x1="264.4" y1="331.34000000000003" x2="266.5" y2="331.34000000000003" stroke="#808080" stroke-width="1"/>
<text x="261.9" y="334.34000000000003" font-size="8.5" text-anchor="end" fill="#222" stroke="#222" stroke-width="0.18">0.015</text>
<line x1="264.4" y1="303.62" x2="266.5" y2="303.62" stroke="#808080" stroke-width="1"/>
<text x="261.9" y="306.62" font-size="8.5" text-anchor="end" fill="#222" stroke="#222" stroke-width="0.18">0.020</text>
<line x1="264.4" y1="275.9" x2="266.5" y2="275.9" stroke="#808080" stroke-width="1"/>
<text x="261.9" y="278.9" font-size="8.5" text-anchor="end" fill="#222" stroke="#222" stroke-width="0.18">0.025</text>
<line x1="264.4" y1="248.18" x2="266.5" y2="248.18" stroke="#808080" stroke-width="1"/>
<text x="261.9" y="251.18" font-size="8.5" text-anchor="end" fill="#222" stroke="#222" stroke-width="0.18">0.030</text>
<line x1="335" y1="414.5" x2="335" y2="416.5" stroke="#808080" stroke-width="1"/>
<line x1="426.4" y1="414.5" x2="426.4" y2="416.5" stroke="#808080" stroke-width="1"/>
<rect x="300.50" y="408.20" width="23.20" height="6.30" fill="#8c1712"/>
<rect x="323.70" y="397.20" width="23.10" height="17.30" fill="#368b1f"/>
<rect x="346.80" y="374.90" width="23.00" height="39.60" fill="#1502a0"/>
<rect x="391.90" y="409.30" width="23.00" height="5.20" fill="#8c1712"/>
<rect x="414.90" y="394.10" width="22.90" height="20.40" fill="#368b1f"/>
<rect x="437.80" y="318.70" width="23.00" height="95.80" fill="#1502a0"/>
<text x="230.6" y="331.6" font-size="10.1" text-anchor="middle" fill="#111" font-weight="bold" transform="rotate(-90 230.6 331.6)">Error proportion</text>
<text x="338.3" y="428.0" font-size="8.2" text-anchor="middle" fill="#111" font-weight="bold">SNPs</text>
<text x="428.4" y="428.0" font-size="7.9" text-anchor="middle" fill="#111" font-weight="bold">InDels</text>
<rect x="443.10" y="252.10" width="10.70" height="2.80" fill="#8c1712"/>
<rect x="443.10" y="258.50" width="10.70" height="2.80" fill="#368b1f"/>
<rect x="443.10" y="264.90" width="10.70" height="2.90" fill="#1502a0"/>
<text x="458.9" y="255.6" font-size="6.6" text-anchor="start" fill="#111">Assembly</text>
<text x="458.9" y="261.9" font-size="6.6" text-anchor="start" fill="#111">Linear</text>
<text x="458.9" y="268.3" font-size="6.6" text-anchor="start" fill="#111">Pangenome</text>
<line x1="556.2" y1="238" x2="556.2" y2="415.0" stroke="#808080" stroke-width="1"/>
<line x1="556.2" y1="414.5" x2="674" y2="414.5" stroke="#808080" stroke-width="1"/>
<line x1="554.2" y1="414.5" x2="556.2" y2="414.5" stroke="#808080" stroke-width="1"/>
<text x="553.6" y="417.5" font-size="8.5" text-anchor="end" fill="#222" stroke="#222" stroke-width="0.18">80</text>
<line x1="554.2" y1="370.3" x2="556.2" y2="370.3" stroke="#808080" stroke-width="1"/>
<text x="553.6" y="373.3" font-size="8.5" text-anchor="end" fill="#222" stroke="#222" stroke-width="0.18">85</text>
<line x1="554.2" y1="326.1" x2="556.2" y2="326.1" stroke="#808080" stroke-width="1"/>
<text x="553.6" y="329.1" font-size="8.5" text-anchor="end" fill="#222" stroke="#222" stroke-width="0.18">90</text>
<line x1="554.2" y1="281.9" x2="556.2" y2="281.9" stroke="#808080" stroke-width="1"/>
<text x="553.6" y="284.9" font-size="8.5" text-anchor="end" fill="#222" stroke="#222" stroke-width="0.18">95</text>
<line x1="554.2" y1="237.7" x2="556.2" y2="237.7" stroke="#808080" stroke-width="1"/>
<text x="553.6" y="240.7" font-size="8.5" text-anchor="end" fill="#222" stroke="#222" stroke-width="0.18">100</text>
<text x="532.6" y="325.2" font-size="8.7" text-anchor="middle" fill="#111" font-weight="bold" transform="rotate(-90 532.6 325.2)">Properly paired reads (%)</text>
<text x="580" y="429.1" font-size="7.7" text-anchor="middle" fill="#111" font-weight="bold">CHM13</text>
<text x="615.5" y="429.1" font-size="7.7" text-anchor="middle" fill="#111" font-weight="bold">HPRC</text>
<text x="650.2" y="429.1" font-size="7.7" text-anchor="middle" fill="#111" font-weight="bold">UPR</text>
<line x1="580" y1="321.9" x2="580" y2="328.5" stroke="#3a3a3a" stroke-width="0.9"/>
<line x1="580" y1="375.4" x2="580" y2="399.5" stroke="#3a3a3a" stroke-width="0.9"/>
<line x1="574.5" y1="321.9" x2="585.5" y2="321.9" stroke="#3a3a3a" stroke-width="0.9"/>
<line x1="574.5" y1="399.5" x2="585.5" y2="399.5" stroke="#3a3a3a" stroke-width="0.9"/>
<rect x="568.45" y="328.50" width="23.10" height="46.90" fill="#a4bddf" stroke="#3a3a3a" stroke-width="0.8"/>
<line x1="568.45" y1="337.3" x2="591.55" y2="337.3" stroke="#2a2a2a" stroke-width="1.0"/>
<circle cx="576.90" cy="321.90" r="1.8" fill="none" stroke="#555" stroke-width="0.7"/>
<circle cx="582.90" cy="324.90" r="1.8" fill="none" stroke="#555" stroke-width="0.7"/>
<circle cx="576.90" cy="331.90" r="1.8" fill="none" stroke="#555" stroke-width="0.7"/>
<circle cx="582.90" cy="334.50" r="1.8" fill="none" stroke="#555" stroke-width="0.7"/>
<circle cx="576.90" cy="337.30" r="1.8" fill="none" stroke="#555" stroke-width="0.7"/>
<circle cx="580.00" cy="351.20" r="1.8" fill="none" stroke="#555" stroke-width="0.7"/>
<circle cx="580.00" cy="365.80" r="1.8" fill="none" stroke="#555" stroke-width="0.7"/>
<circle cx="580.00" cy="385.10" r="1.8" fill="none" stroke="#555" stroke-width="0.7"/>
<circle cx="580.00" cy="399.50" r="1.8" fill="none" stroke="#555" stroke-width="0.7"/>
<line x1="615.1" y1="278.6" x2="615.1" y2="285.1" stroke="#3a3a3a" stroke-width="0.9"/>
<line x1="615.1" y1="332.5" x2="615.1" y2="351.3" stroke="#3a3a3a" stroke-width="0.9"/>
<line x1="609.6" y1="278.6" x2="620.6" y2="278.6" stroke="#3a3a3a" stroke-width="0.9"/>
<line x1="609.6" y1="351.3" x2="620.6" y2="351.3" stroke="#3a3a3a" stroke-width="0.9"/>
<rect x="603.35" y="285.10" width="23.50" height="47.40" fill="#e8a284" stroke="#3a3a3a" stroke-width="0.8"/>
<line x1="603.35" y1="303.4" x2="626.85" y2="303.4" stroke="#2a2a2a" stroke-width="1.0"/>
<circle cx="615.20" cy="278.60" r="1.8" fill="none" stroke="#555" stroke-width="0.7"/>
<circle cx="615.20" cy="282.30" r="1.8" fill="none" stroke="#555" stroke-width="0.7"/>
<circle cx="615.20" cy="286.90" r="1.8" fill="none" stroke="#555" stroke-width="0.7"/>
<circle cx="615.20" cy="291.50" r="1.8" fill="none" stroke="#555" stroke-width="0.7"/>
<circle cx="615.20" cy="303.40" r="1.8" fill="none" stroke="#555" stroke-width="0.7"/>
<circle cx="615.20" cy="313.20" r="1.8" fill="none" stroke="#555" stroke-width="0.7"/>
<circle cx="615.20" cy="318.20" r="1.8" fill="none" stroke="#555" stroke-width="0.7"/>
<circle cx="615.20" cy="347.60" r="1.8" fill="none" stroke="#555" stroke-width="0.7"/>
<circle cx="615.20" cy="351.30" r="1.8" fill="none" stroke="#555" stroke-width="0.7"/>
<line x1="650.4" y1="276.2" x2="650.4" y2="282.3" stroke="#3a3a3a" stroke-width="0.9"/>
<line x1="650.4" y1="330.1" x2="650.4" y2="349.8" stroke="#3a3a3a" stroke-width="0.9"/>
<line x1="644.9" y1="276.2" x2="655.9" y2="276.2" stroke="#3a3a3a" stroke-width="0.9"/>
<line x1="644.9" y1="349.8" x2="655.9" y2="349.8" stroke="#3a3a3a" stroke-width="0.9"/>
<rect x="639.05" y="282.30" width="22.70" height="47.80" fill="#9495c6" stroke="#3a3a3a" stroke-width="0.8"/>
<line x1="639.05" y1="301.2" x2="661.75" y2="301.2" stroke="#2a2a2a" stroke-width="1.0"/>
<circle cx="650.20" cy="276.20" r="1.8" fill="none" stroke="#555" stroke-width="0.7"/>
<circle cx="650.20" cy="279.50" r="1.8" fill="none" stroke="#555" stroke-width="0.7"/>
<circle cx="650.20" cy="284.10" r="1.8" fill="none" stroke="#555" stroke-width="0.7"/>
<circle cx="650.20" cy="288.70" r="1.8" fill="none" stroke="#555" stroke-width="0.7"/>
<circle cx="650.20" cy="301.20" r="1.8" fill="none" stroke="#555" stroke-width="0.7"/>
<circle cx="650.20" cy="310.80" r="1.8" fill="none" stroke="#555" stroke-width="0.7"/>
<circle cx="650.20" cy="315.00" r="1.8" fill="none" stroke="#555" stroke-width="0.7"/>
<circle cx="650.20" cy="345.20" r="1.8" fill="none" stroke="#555" stroke-width="0.7"/>
<circle cx="650.20" cy="349.80" r="1.8" fill="none" stroke="#555" stroke-width="0.7"/>
<line x1="53.0" y1="457.8" x2="53.0" y2="635.9" stroke="#808080" stroke-width="1"/>
<line x1="53.0" y1="635.4" x2="173" y2="635.4" stroke="#808080" stroke-width="1"/>
<line x1="51" y1="635.4" x2="53.0" y2="635.4" stroke="#808080" stroke-width="1"/>
<text x="49.3" y="638.4" font-size="8.4" text-anchor="end" fill="#222" stroke="#222" stroke-width="0.18">0.90</text>
<line x1="51" y1="591.0999999999999" x2="53.0" y2="591.0999999999999" stroke="#808080" stroke-width="1"/>
<text x="49.3" y="594.0999999999999" font-size="8.4" text-anchor="end" fill="#222" stroke="#222" stroke-width="0.18">0.92</text>
<line x1="51" y1="546.8000000000002" x2="53.0" y2="546.8000000000002" stroke="#808080" stroke-width="1"/>
<text x="49.3" y="549.8000000000002" font-size="8.4" text-anchor="end" fill="#222" stroke="#222" stroke-width="0.18">0.94</text>
<line x1="51" y1="502.5000000000001" x2="53.0" y2="502.5000000000001" stroke="#808080" stroke-width="1"/>
<text x="49.3" y="505.5000000000001" font-size="8.4" text-anchor="end" fill="#222" stroke="#222" stroke-width="0.18">0.96</text>
<line x1="51" y1="458.20000000000005" x2="53.0" y2="458.20000000000005" stroke="#808080" stroke-width="1"/>
<text x="49.3" y="461.20000000000005" font-size="8.4" text-anchor="end" fill="#222" stroke="#222" stroke-width="0.18">0.98</text>
<text x="24.7" y="549" font-size="9.6" text-anchor="middle" fill="#111" font-weight="bold" transform="rotate(-90 24.7 549)">Recall</text>
<text x="91.2" y="650.7" font-size="8.8" text-anchor="middle" fill="#111" font-weight="bold">HPRC</text>
<text x="141.3" y="650.7" font-size="8.8" text-anchor="middle" fill="#111" font-weight="bold">UPR</text>
<line x1="87.7" y1="524.7" x2="87.7" y2="525.5" stroke="#3a3a3a" stroke-width="0.9"/>
<line x1="87.7" y1="533.6" x2="87.7" y2="534.8" stroke="#3a3a3a" stroke-width="0.9"/>
<line x1="79.2" y1="524.7" x2="96.2" y2="524.7" stroke="#3a3a3a" stroke-width="0.9"/>
<line x1="79.2" y1="534.8" x2="96.2" y2="534.8" stroke="#3a3a3a" stroke-width="0.9"/>
<rect x="70.75" y="525.50" width="33.90" height="8.10" fill="#e8a284" stroke="#3a3a3a" stroke-width="0.7"/>
<line x1="70.75" y1="529.4" x2="104.65" y2="529.4" stroke="#2a2a2a" stroke-width="1.0"/>
<circle cx="76.80" cy="525.50" r="1.8" fill="none" stroke="#333" stroke-width="0.8"/>
<circle cx="84.10" cy="523.90" r="1.8" fill="none" stroke="#333" stroke-width="0.8"/>
<circle cx="98.20" cy="524.90" r="1.8" fill="none" stroke="#333" stroke-width="0.8"/>
<circle cx="76.80" cy="530.40" r="1.8" fill="none" stroke="#333" stroke-width="0.8"/>
<circle cx="84.10" cy="528.80" r="1.8" fill="none" stroke="#333" stroke-width="0.8"/>
<circle cx="91.00" cy="529.10" r="1.8" fill="none" stroke="#333" stroke-width="0.8"/>
<circle cx="98.50" cy="532.40" r="1.8" fill="none" stroke="#333" stroke-width="0.8"/>
<circle cx="76.80" cy="535.70" r="1.8" fill="none" stroke="#333" stroke-width="0.8"/>
<circle cx="91.00" cy="535.00" r="1.8" fill="none" stroke="#333" stroke-width="0.8"/>
<line x1="138.7" y1="510.1" x2="138.7" y2="510.1" stroke="#3a3a3a" stroke-width="0.9"/>
<line x1="138.7" y1="513.4" x2="138.7" y2="531" stroke="#3a3a3a" stroke-width="0.9"/>
<line x1="130.7" y1="510.1" x2="146.7" y2="510.1" stroke="#3a3a3a" stroke-width="0.9"/>
<line x1="130.7" y1="531" x2="146.7" y2="531" stroke="#3a3a3a" stroke-width="0.9"/>
<rect x="121.80" y="510.10" width="33.80" height="3.30" fill="#9495c6" stroke="#3a3a3a" stroke-width="0.6"/>
<line x1="121.79999999999998" y1="511.7" x2="155.6" y2="511.7" stroke="#2a2a2a" stroke-width="1.0"/>
<circle cx="123.40" cy="508.20" r="1.8" fill="none" stroke="#333" stroke-width="0.8"/>
<circle cx="135.50" cy="508.50" r="1.8" fill="none" stroke="#333" stroke-width="0.8"/>
<circle cx="141.90" cy="509.50" r="1.8" fill="none" stroke="#333" stroke-width="0.8"/>
<circle cx="129.00" cy="511.70" r="1.8" fill="none" stroke="#333" stroke-width="0.8"/>
<circle cx="135.50" cy="513.40" r="1.8" fill="none" stroke="#333" stroke-width="0.8"/>
<circle cx="141.90" cy="513.80" r="1.8" fill="none" stroke="#333" stroke-width="0.8"/>
<circle cx="138.40" cy="531.00" r="1.8" fill="none" stroke="#333" stroke-width="0.8"/>
<line x1="231.2" y1="459.2" x2="231.2" y2="636.3" stroke="#808080" stroke-width="1"/>
<line x1="231.2" y1="635.8" x2="374.5" y2="635.8" stroke="#808080" stroke-width="1"/>
<line x1="229" y1="635.8" x2="231.2" y2="635.8" stroke="#808080" stroke-width="1"/>
<text x="226.2" y="638.3" font-size="7.1" text-anchor="end" fill="#222" stroke="#222" stroke-width="0.18">20000</text>
<line x1="229" y1="591.65" x2="231.2" y2="591.65" stroke="#808080" stroke-width="1"/>
<text x="226.2" y="594.15" font-size="7.1" text-anchor="end" fill="#222" stroke="#222" stroke-width="0.18">22000</text>
<line x1="229" y1="547.5" x2="231.2" y2="547.5" stroke="#808080" stroke-width="1"/>
<text x="226.2" y="550.0" font-size="7.1" text-anchor="end" fill="#222" stroke="#222" stroke-width="0.18">24000</text>
<line x1="229" y1="503.3499999999999" x2="231.2" y2="503.3499999999999" stroke="#808080" stroke-width="1"/>
<text x="226.2" y="505.8499999999999" font-size="7.1" text-anchor="end" fill="#222" stroke="#222" stroke-width="0.18">26000</text>
<line x1="229" y1="459.19999999999993" x2="231.2" y2="459.19999999999993" stroke="#808080" stroke-width="1"/>
<text x="226.2" y="461.69999999999993" font-size="7.1" text-anchor="end" fill="#222" stroke="#222" stroke-width="0.18">28000</text>
<text x="197" y="552.2" font-size="8.9" text-anchor="middle" fill="#111" font-weight="bold" transform="rotate(-90 197 552.2)">Number of SVs</text>
<text x="274.6" y="650.8" font-size="8.8" text-anchor="middle" fill="#111" font-weight="bold">HPRC</text>
<text x="339.2" y="650.8" font-size="8.8" text-anchor="middle" fill="#111" font-weight="bold">UPR</text>
<line x1="274" y1="527.4" x2="274" y2="542.1" stroke="#3a3a3a" stroke-width="0.9"/>
<line x1="274" y1="559.9" x2="274" y2="606" stroke="#3a3a3a" stroke-width="0.9"/>
<line x1="263.5" y1="527.4" x2="284.5" y2="527.4" stroke="#3a3a3a" stroke-width="0.9"/>
<line x1="263.5" y1="606" x2="284.5" y2="606" stroke="#3a3a3a" stroke-width="0.9"/>
<rect x="252.75" y="542.10" width="42.50" height="17.80" fill="#e8a284" stroke="#3a3a3a" stroke-width="0.8"/>
<line x1="252.75" y1="549.8" x2="295.25" y2="549.8" stroke="#2a2a2a" stroke-width="1.0"/>
<circle cx="273.90" cy="527.40" r="2.2" fill="none" stroke="#2e2e2e" stroke-width="0.9"/>
<circle cx="278.10" cy="539.70" r="2.2" fill="none" stroke="#2e2e2e" stroke-width="0.9"/>
<circle cx="269.50" cy="543.70" r="2.2" fill="none" stroke="#2e2e2e" stroke-width="0.9"/>
<circle cx="278.10" cy="544.80" r="2.2" fill="none" stroke="#2e2e2e" stroke-width="0.9"/>
<circle cx="269.50" cy="549.80" r="2.2" fill="none" stroke="#2e2e2e" stroke-width="0.9"/>
<circle cx="278.10" cy="549.80" r="2.2" fill="none" stroke="#2e2e2e" stroke-width="0.9"/>
<circle cx="273.90" cy="557.70" r="2.2" fill="none" stroke="#2e2e2e" stroke-width="0.9"/>
<circle cx="273.90" cy="562.20" r="2.2" fill="none" stroke="#2e2e2e" stroke-width="0.9"/>
<circle cx="273.90" cy="606.00" r="2.2" fill="none" stroke="#2e2e2e" stroke-width="0.9"/>
<line x1="337.5" y1="497.9" x2="337.5" y2="507.5" stroke="#3a3a3a" stroke-width="0.9"/>
<line x1="337.5" y1="527.4" x2="337.5" y2="581.1" stroke="#3a3a3a" stroke-width="0.9"/>
<line x1="327.25" y1="497.9" x2="347.75" y2="497.9" stroke="#3a3a3a" stroke-width="0.9"/>
<line x1="327.25" y1="581.1" x2="347.75" y2="581.1" stroke="#3a3a3a" stroke-width="0.9"/>
<rect x="316.40" y="507.50" width="42.20" height="19.90" fill="#9495c6" stroke="#3a3a3a" stroke-width="0.8"/>
<line x1="316.4" y1="517.2" x2="358.6" y2="517.2" stroke="#2a2a2a" stroke-width="1.0"/>
<circle cx="337.60" cy="497.90" r="2.2" fill="none" stroke="#2e2e2e" stroke-width="0.9"/>
<circle cx="333.30" cy="507.50" r="2.2" fill="none" stroke="#2e2e2e" stroke-width="0.9"/>
<circle cx="342.00" cy="506.60" r="2.2" fill="none" stroke="#2e2e2e" stroke-width="0.9"/>
<circle cx="342.00" cy="511.20" r="2.2" fill="none" stroke="#2e2e2e" stroke-width="0.9"/>
<circle cx="333.30" cy="517.60" r="2.2" fill="none" stroke="#2e2e2e" stroke-width="0.9"/>
<circle cx="342.00" cy="518.00" r="2.2" fill="none" stroke="#2e2e2e" stroke-width="0.9"/>
<circle cx="337.60" cy="524.00" r="2.2" fill="none" stroke="#2e2e2e" stroke-width="0.9"/>
<circle cx="337.60" cy="529.60" r="2.2" fill="none" stroke="#2e2e2e" stroke-width="0.9"/>
<circle cx="337.60" cy="581.10" r="2.2" fill="none" stroke="#2e2e2e" stroke-width="0.9"/>
<line x1="551.2" y1="451.9" x2="551.2" y2="501.8" stroke="#808080" stroke-width="1"/>
<line x1="549.3" y1="451.9" x2="551.2" y2="451.9" stroke="#808080" stroke-width="1"/>
<text x="547.9" y="454.29999999999995" font-size="6.7" text-anchor="end" fill="#222">150450</text>
<line x1="549.3" y1="468.8" x2="551.2" y2="468.8" stroke="#808080" stroke-width="1"/>
<text x="547.9" y="471.2" font-size="6.7" text-anchor="end" fill="#222">100450</text>
<line x1="549.3" y1="485.4" x2="551.2" y2="485.4" stroke="#808080" stroke-width="1"/>
<text x="547.9" y="487.79999999999995" font-size="6.7" text-anchor="end" fill="#222">50450</text>
<line x1="549.3" y1="501.7" x2="551.2" y2="501.7" stroke="#808080" stroke-width="1"/>
<text x="547.9" y="504.09999999999997" font-size="6.7" text-anchor="end" fill="#222">450</text>
<line x1="551.5" y1="510.4" x2="551.5" y2="622.5" stroke="#808080" stroke-width="1"/>
<line x1="549.6" y1="622.5" x2="551.5" y2="622.5" stroke="#808080" stroke-width="1"/>
<line x1="549.6" y1="608.5" x2="551.5" y2="608.5" stroke="#808080" stroke-width="1"/>
<text x="548.0" y="611.1" font-size="7.2" text-anchor="end" fill="#222">50</text>
<line x1="549.6" y1="594.5" x2="551.5" y2="594.5" stroke="#808080" stroke-width="1"/>
<text x="548.0" y="597.1" font-size="7.2" text-anchor="end" fill="#222">100</text>
<line x1="549.6" y1="580.5" x2="551.5" y2="580.5" stroke="#808080" stroke-width="1"/>
<text x="548.0" y="583.1" font-size="7.2" text-anchor="end" fill="#222">150</text>
<line x1="549.6" y1="566.5" x2="551.5" y2="566.5" stroke="#808080" stroke-width="1"/>
<text x="548.0" y="569.1" font-size="7.2" text-anchor="end" fill="#222">200</text>
<line x1="549.6" y1="552.5" x2="551.5" y2="552.5" stroke="#808080" stroke-width="1"/>
<text x="548.0" y="555.1" font-size="7.2" text-anchor="end" fill="#222">250</text>
<line x1="549.6" y1="538.5" x2="551.5" y2="538.5" stroke="#808080" stroke-width="1"/>
<text x="548.0" y="541.1" font-size="7.2" text-anchor="end" fill="#222">300</text>
<line x1="549.6" y1="524.5" x2="551.5" y2="524.5" stroke="#808080" stroke-width="1"/>
<text x="548.0" y="527.1" font-size="7.2" text-anchor="end" fill="#222">350</text>
<line x1="549.6" y1="510.5" x2="551.5" y2="510.5" stroke="#808080" stroke-width="1"/>
<text x="548.0" y="513.1" font-size="7.2" text-anchor="end" fill="#222">400</text>
<line x1="411.5" y1="622.5" x2="681.5" y2="622.5" stroke="#808080" stroke-width="1"/>
<line x1="411.49" y1="622.5" x2="411.49" y2="624.5" stroke="#808080" stroke-width="1"/>
<text x="414.09000000000003" y="627.0" font-size="7.4" text-anchor="end" fill="#222" transform="rotate(-90 414.09000000000003 627.0)">-130</text>
<line x1="422.26" y1="622.5" x2="422.26" y2="624.5" stroke="#808080" stroke-width="1"/>
<text x="424.86" y="627.0" font-size="7.4" text-anchor="end" fill="#222" transform="rotate(-90 424.86 627.0)">-120</text>
<line x1="433.03" y1="622.5" x2="433.03" y2="624.5" stroke="#808080" stroke-width="1"/>
<text x="435.63" y="627.0" font-size="7.4" text-anchor="end" fill="#222" transform="rotate(-90 435.63 627.0)">-110</text>
<line x1="443.8" y1="622.5" x2="443.8" y2="624.5" stroke="#808080" stroke-width="1"/>
<text x="446.40000000000003" y="627.0" font-size="7.4" text-anchor="end" fill="#222" transform="rotate(-90 446.40000000000003 627.0)">-100</text>
<line x1="454.57" y1="622.5" x2="454.57" y2="624.5" stroke="#808080" stroke-width="1"/>
<text x="457.17" y="627.0" font-size="7.4" text-anchor="end" fill="#222" transform="rotate(-90 457.17 627.0)">-90</text>
<line x1="465.34000000000003" y1="622.5" x2="465.34000000000003" y2="624.5" stroke="#808080" stroke-width="1"/>
<text x="467.94000000000005" y="627.0" font-size="7.4" text-anchor="end" fill="#222" transform="rotate(-90 467.94000000000005 627.0)">-80</text>
<line x1="476.11" y1="622.5" x2="476.11" y2="624.5" stroke="#808080" stroke-width="1"/>
<text x="478.71000000000004" y="627.0" font-size="7.4" text-anchor="end" fill="#222" transform="rotate(-90 478.71000000000004 627.0)">-70</text>
<line x1="486.88" y1="622.5" x2="486.88" y2="624.5" stroke="#808080" stroke-width="1"/>
<text x="489.48" y="627.0" font-size="7.4" text-anchor="end" fill="#222" transform="rotate(-90 489.48 627.0)">-60</text>
<line x1="497.65" y1="622.5" x2="497.65" y2="624.5" stroke="#808080" stroke-width="1"/>
<text x="500.25" y="627.0" font-size="7.4" text-anchor="end" fill="#222" transform="rotate(-90 500.25 627.0)">-50</text>
<line x1="508.42" y1="622.5" x2="508.42" y2="624.5" stroke="#808080" stroke-width="1"/>
<text x="511.02000000000004" y="627.0" font-size="7.4" text-anchor="end" fill="#222" transform="rotate(-90 511.02000000000004 627.0)">-40</text>
<line x1="519.19" y1="622.5" x2="519.19" y2="624.5" stroke="#808080" stroke-width="1"/>
<text x="521.7900000000001" y="627.0" font-size="7.4" text-anchor="end" fill="#222" transform="rotate(-90 521.7900000000001 627.0)">-30</text>
<line x1="529.96" y1="622.5" x2="529.96" y2="624.5" stroke="#808080" stroke-width="1"/>
<text x="532.5600000000001" y="627.0" font-size="7.4" text-anchor="end" fill="#222" transform="rotate(-90 532.5600000000001 627.0)">-20</text>
<line x1="540.73" y1="622.5" x2="540.73" y2="624.5" stroke="#808080" stroke-width="1"/>
<text x="543.33" y="627.0" font-size="7.4" text-anchor="end" fill="#222" transform="rotate(-90 543.33 627.0)">-10</text>
<line x1="551.5" y1="622.5" x2="551.5" y2="624.5" stroke="#808080" stroke-width="1"/>
<text x="554.1" y="627.0" font-size="7.4" text-anchor="end" fill="#222" transform="rotate(-90 554.1 627.0)">0</text>
<line x1="562.27" y1="622.5" x2="562.27" y2="624.5" stroke="#808080" stroke-width="1"/>
<text x="564.87" y="627.0" font-size="7.4" text-anchor="end" fill="#222" transform="rotate(-90 564.87 627.0)">10</text>
<line x1="573.04" y1="622.5" x2="573.04" y2="624.5" stroke="#808080" stroke-width="1"/>
<text x="575.64" y="627.0" font-size="7.4" text-anchor="end" fill="#222" transform="rotate(-90 575.64 627.0)">20</text>
<line x1="583.81" y1="622.5" x2="583.81" y2="624.5" stroke="#808080" stroke-width="1"/>
<text x="586.41" y="627.0" font-size="7.4" text-anchor="end" fill="#222" transform="rotate(-90 586.41 627.0)">30</text>
<line x1="594.58" y1="622.5" x2="594.58" y2="624.5" stroke="#808080" stroke-width="1"/>
<text x="597.1800000000001" y="627.0" font-size="7.4" text-anchor="end" fill="#222" transform="rotate(-90 597.1800000000001 627.0)">40</text>
<line x1="605.35" y1="622.5" x2="605.35" y2="624.5" stroke="#808080" stroke-width="1"/>
<line x1="616.12" y1="622.5" x2="616.12" y2="624.5" stroke="#808080" stroke-width="1"/>
<text x="618.72" y="627.0" font-size="7.4" text-anchor="end" fill="#222" transform="rotate(-90 618.72 627.0)">60</text>
<line x1="626.89" y1="622.5" x2="626.89" y2="624.5" stroke="#808080" stroke-width="1"/>
<text x="629.49" y="627.0" font-size="7.4" text-anchor="end" fill="#222" transform="rotate(-90 629.49 627.0)">70</text>
<line x1="637.66" y1="622.5" x2="637.66" y2="624.5" stroke="#808080" stroke-width="1"/>
<text x="640.26" y="627.0" font-size="7.4" text-anchor="end" fill="#222" transform="rotate(-90 640.26 627.0)">80</text>
<line x1="648.43" y1="622.5" x2="648.43" y2="624.5" stroke="#808080" stroke-width="1"/>
<text x="651.03" y="627.0" font-size="7.4" text-anchor="end" fill="#222" transform="rotate(-90 651.03 627.0)">90</text>
<line x1="659.2" y1="622.5" x2="659.2" y2="624.5" stroke="#808080" stroke-width="1"/>
<text x="661.8000000000001" y="627.0" font-size="7.4" text-anchor="end" fill="#222" transform="rotate(-90 661.8000000000001 627.0)">100</text>
<line x1="669.97" y1="622.5" x2="669.97" y2="624.5" stroke="#808080" stroke-width="1"/>
<text x="672.57" y="627.0" font-size="7.4" text-anchor="end" fill="#222" transform="rotate(-90 672.57 627.0)">110</text>
<line x1="680.74" y1="622.5" x2="680.74" y2="624.5" stroke="#808080" stroke-width="1"/>
<text x="683.34" y="627.0" font-size="7.4" text-anchor="end" fill="#222" transform="rotate(-90 683.34 627.0)">120</text>
<text x="603.9" y="627.0" font-size="7.4" text-anchor="end" fill="#222" transform="rotate(-90 603.9 627.0)">5</text>
<text x="611.9" y="627.0" font-size="7.4" text-anchor="end" fill="#222" transform="rotate(-90 611.9 627.0)">0</text>
<text x="517.2" y="539.4" font-size="8.55" text-anchor="middle" fill="#111" font-weight="bold" transform="rotate(-90 517.2 539.4)">Frequency</text>
<text x="546.4" y="646.7" font-size="7.7" text-anchor="middle" fill="#111" font-weight="bold">SV Length (Kb)</text>
<line x1="632.8" y1="483.3" x2="648.9" y2="483.3" stroke="#2e2e98" stroke-width="1.0"/>
<line x1="631.9" y1="490.2" x2="648.9" y2="490.2" stroke="#f0502c" stroke-width="1.0" stroke-dasharray="2,1.5"/>
<text x="658" y="485.3" font-size="6.6" text-anchor="start" fill="#222">UPR</text>
<text x="658" y="492.9" font-size="6.6" text-anchor="start" fill="#222">HPRC</text>
<path d="M411.49,622.36 L420.11,621.66 L427.64,620.82 L429.80,621.94 L443.80,622.22 L465.34,622.22 L476.11,622.50 L486.88,622.22 L492.26,620.82 L497.65,622.22 L503.04,621.94 L508.42,622.22 L513.80,622.50 L515.96,618.58 L518.11,621.10 L521.34,622.50 L523.50,621.94 L525.65,616.34 L527.81,620.26 L529.96,621.94 L531.04,616.90 L533.19,619.70 L535.35,615.22 L537.50,617.46 L538.58,614.10 L539.65,612.98 L540.73,598.70 L541.81,590.02 L542.88,574.34 L543.96,549.70 L544.50,510.50 M556.35,510.50 L557.96,558.10 L559.04,580.50 L560.12,603.46 L561.19,605.70 L562.27,611.86 L564.42,616.90 L567.65,619.98 L573.04,622.22 L578.42,621.38 L583.81,620.82 L594.58,619.98 L599.97,621.38 L605.35,621.94 L616.12,622.22 L637.66,622.22 L648.43,621.94 L653.82,620.26 L672.12,620.26 L674.28,622.22" fill="none" stroke="#2e2e98" stroke-width="1.2" stroke-linejoin="round"/>
<path d="M411.49,622.36 L422.26,621.94 L427.64,621.10 L433.03,621.66 L443.80,621.94 L465.34,622.22 L473.96,621.10 L476.11,622.22 L486.88,621.94 L497.65,622.22 L508.42,622.22 L513.80,621.10 L519.19,621.94 L522.42,621.38 L524.58,614.10 L526.73,618.30 L528.88,616.34 L531.04,619.14 L533.19,614.10 L535.35,618.02 L537.50,615.78 L539.65,611.30 L540.73,597.30 L541.81,587.50 L542.88,580.50 L543.42,555.30 L543.96,510.50 M555.81,510.50 L557.42,566.50 L558.50,583.30 L559.58,607.10 L560.65,609.06 L562.27,612.98 L564.42,618.58 L567.65,620.54 L573.04,621.94 L578.42,621.10 L583.81,620.54 L594.58,619.70 L599.97,621.66 L605.35,621.94 L616.12,621.94 L637.66,622.22 L648.43,621.94 L653.82,622.36" fill="none" stroke="#f0502c" stroke-width="1.2" stroke-dasharray="2,1.5" stroke-linejoin="round"/>
<line x1="548.2" y1="510.4" x2="555.5" y2="510.4" stroke="#666" stroke-width="0.9"/>
<path d="M546.5,501.6 L549.0,501.3 L550.5,453 L554.1,501.3 L556.4,501.6" fill="none" stroke="#2e2e98" stroke-width="0.9"/>
<path d="M546.5,501.6 L549.0,501.3 L550.5,453 L554.1,501.3 L556.4,501.6" fill="none" stroke="#f0502c" stroke-width="0.9" stroke-dasharray="2,1.5"/>
<line x1="552.3" y1="470" x2="552.3" y2="501.6" stroke="#999" stroke-width="0.6"/>
</svg>
</div>
</body></html>
